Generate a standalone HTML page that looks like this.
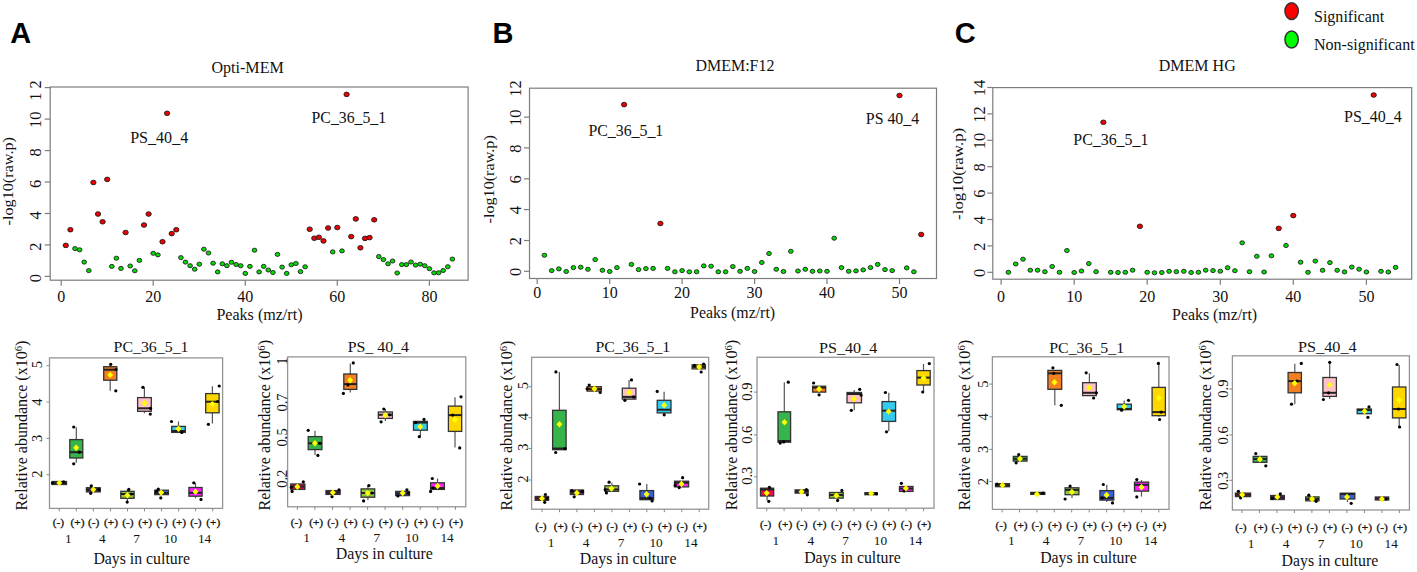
<!DOCTYPE html>
<html><head><meta charset="utf-8"><style>html,body{margin:0;padding:0;background:#fff;width:1417px;height:572px;overflow:hidden}svg{display:block}</style></head>
<body>
<svg width="1417" height="572" viewBox="0 0 1417 572">
<rect width="1417" height="572" fill="#fff"/>
<rect x="50.2" y="87" width="417.90000000000003" height="193.2" fill="none" stroke="#7c7c7c" stroke-width="1.2"/>
<line x1="44.7" y1="276.4" x2="50.2" y2="276.4" stroke="#7c7c7c" stroke-width="1.2"/>
<text transform="translate(40.8,278.2) rotate(-90)" font-family="Liberation Serif" font-size="16.5" font-weight="normal" text-anchor="middle" fill="#111">0</text>
<line x1="44.7" y1="244.9" x2="50.2" y2="244.9" stroke="#7c7c7c" stroke-width="1.2"/>
<text transform="translate(40.8,246.7) rotate(-90)" font-family="Liberation Serif" font-size="16.5" font-weight="normal" text-anchor="middle" fill="#111">2</text>
<line x1="44.7" y1="213.5" x2="50.2" y2="213.5" stroke="#7c7c7c" stroke-width="1.2"/>
<text transform="translate(40.8,215.3) rotate(-90)" font-family="Liberation Serif" font-size="16.5" font-weight="normal" text-anchor="middle" fill="#111">4</text>
<line x1="44.7" y1="182.0" x2="50.2" y2="182.0" stroke="#7c7c7c" stroke-width="1.2"/>
<text transform="translate(40.8,183.8) rotate(-90)" font-family="Liberation Serif" font-size="16.5" font-weight="normal" text-anchor="middle" fill="#111">6</text>
<line x1="44.7" y1="150.6" x2="50.2" y2="150.6" stroke="#7c7c7c" stroke-width="1.2"/>
<text transform="translate(40.8,152.4) rotate(-90)" font-family="Liberation Serif" font-size="16.5" font-weight="normal" text-anchor="middle" fill="#111">8</text>
<line x1="44.7" y1="119.1" x2="50.2" y2="119.1" stroke="#7c7c7c" stroke-width="1.2"/>
<text transform="translate(40.8,119.7) rotate(-90)" font-family="Liberation Serif" font-size="16.5" font-weight="normal" text-anchor="middle" fill="#111">10</text>
<line x1="44.7" y1="87.6" x2="50.2" y2="87.6" stroke="#7c7c7c" stroke-width="1.2"/>
<text transform="translate(40.8,88.4) rotate(-90)" font-family="Liberation Serif" font-size="16.5" font-weight="normal" text-anchor="middle" fill="#111" letter-spacing="4">12</text>
<line x1="61.2" y1="280.2" x2="61.2" y2="285.7" stroke="#7c7c7c" stroke-width="1.2"/>
<text x="61.2" y="301.8" font-family="Liberation Serif" font-size="16" font-weight="normal" text-anchor="middle" fill="#111">0</text>
<line x1="153.2" y1="280.2" x2="153.2" y2="285.7" stroke="#7c7c7c" stroke-width="1.2"/>
<text x="153.2" y="301.8" font-family="Liberation Serif" font-size="16" font-weight="normal" text-anchor="middle" fill="#111">20</text>
<line x1="245.3" y1="280.2" x2="245.3" y2="285.7" stroke="#7c7c7c" stroke-width="1.2"/>
<text x="245.3" y="301.8" font-family="Liberation Serif" font-size="16" font-weight="normal" text-anchor="middle" fill="#111">40</text>
<line x1="337.3" y1="280.2" x2="337.3" y2="285.7" stroke="#7c7c7c" stroke-width="1.2"/>
<text x="337.3" y="301.8" font-family="Liberation Serif" font-size="16" font-weight="normal" text-anchor="middle" fill="#111">60</text>
<line x1="429.4" y1="280.2" x2="429.4" y2="285.7" stroke="#7c7c7c" stroke-width="1.2"/>
<text x="429.4" y="301.8" font-family="Liberation Serif" font-size="16" font-weight="normal" text-anchor="middle" fill="#111">80</text>
<ellipse cx="65.8" cy="245.4" rx="2.65" ry="2.3" fill="#ee0000" stroke="#1e1e1e" stroke-width="0.9"/>
<ellipse cx="70.4" cy="229.7" rx="2.65" ry="2.3" fill="#ee0000" stroke="#1e1e1e" stroke-width="0.9"/>
<ellipse cx="75.0" cy="248.6" rx="2.35" ry="2.05" fill="#00dd00" stroke="#1e1e1e" stroke-width="0.9"/>
<ellipse cx="79.6" cy="249.8" rx="2.35" ry="2.05" fill="#00dd00" stroke="#1e1e1e" stroke-width="0.9"/>
<ellipse cx="84.2" cy="262.1" rx="2.35" ry="2.05" fill="#00dd00" stroke="#1e1e1e" stroke-width="0.9"/>
<ellipse cx="88.8" cy="270.6" rx="2.35" ry="2.05" fill="#00dd00" stroke="#1e1e1e" stroke-width="0.9"/>
<ellipse cx="93.4" cy="182.5" rx="2.65" ry="2.3" fill="#ee0000" stroke="#1e1e1e" stroke-width="0.9"/>
<ellipse cx="98.0" cy="214.0" rx="2.65" ry="2.3" fill="#ee0000" stroke="#1e1e1e" stroke-width="0.9"/>
<ellipse cx="102.6" cy="221.8" rx="2.65" ry="2.3" fill="#ee0000" stroke="#1e1e1e" stroke-width="0.9"/>
<ellipse cx="107.2" cy="179.4" rx="2.65" ry="2.3" fill="#ee0000" stroke="#1e1e1e" stroke-width="0.9"/>
<ellipse cx="111.8" cy="266.4" rx="2.35" ry="2.05" fill="#00dd00" stroke="#1e1e1e" stroke-width="0.9"/>
<ellipse cx="116.4" cy="258.2" rx="2.35" ry="2.05" fill="#00dd00" stroke="#1e1e1e" stroke-width="0.9"/>
<ellipse cx="121.0" cy="268.4" rx="2.35" ry="2.05" fill="#00dd00" stroke="#1e1e1e" stroke-width="0.9"/>
<ellipse cx="125.6" cy="232.5" rx="2.65" ry="2.3" fill="#ee0000" stroke="#1e1e1e" stroke-width="0.9"/>
<ellipse cx="130.2" cy="266.0" rx="2.35" ry="2.05" fill="#00dd00" stroke="#1e1e1e" stroke-width="0.9"/>
<ellipse cx="134.8" cy="270.8" rx="2.35" ry="2.05" fill="#00dd00" stroke="#1e1e1e" stroke-width="0.9"/>
<ellipse cx="139.4" cy="260.4" rx="2.35" ry="2.05" fill="#00dd00" stroke="#1e1e1e" stroke-width="0.9"/>
<ellipse cx="144.0" cy="225.0" rx="2.65" ry="2.3" fill="#ee0000" stroke="#1e1e1e" stroke-width="0.9"/>
<ellipse cx="148.6" cy="214.0" rx="2.65" ry="2.3" fill="#ee0000" stroke="#1e1e1e" stroke-width="0.9"/>
<ellipse cx="153.2" cy="253.3" rx="2.35" ry="2.05" fill="#00dd00" stroke="#1e1e1e" stroke-width="0.9"/>
<ellipse cx="157.9" cy="254.9" rx="2.35" ry="2.05" fill="#00dd00" stroke="#1e1e1e" stroke-width="0.9"/>
<ellipse cx="162.5" cy="241.7" rx="2.65" ry="2.3" fill="#ee0000" stroke="#1e1e1e" stroke-width="0.9"/>
<ellipse cx="167.1" cy="113.3" rx="2.65" ry="2.3" fill="#ee0000" stroke="#1e1e1e" stroke-width="0.9"/>
<ellipse cx="171.7" cy="233.6" rx="2.65" ry="2.3" fill="#ee0000" stroke="#1e1e1e" stroke-width="0.9"/>
<ellipse cx="176.3" cy="229.7" rx="2.65" ry="2.3" fill="#ee0000" stroke="#1e1e1e" stroke-width="0.9"/>
<ellipse cx="180.9" cy="257.6" rx="2.35" ry="2.05" fill="#00dd00" stroke="#1e1e1e" stroke-width="0.9"/>
<ellipse cx="185.5" cy="262.1" rx="2.35" ry="2.05" fill="#00dd00" stroke="#1e1e1e" stroke-width="0.9"/>
<ellipse cx="190.1" cy="265.7" rx="2.35" ry="2.05" fill="#00dd00" stroke="#1e1e1e" stroke-width="0.9"/>
<ellipse cx="194.7" cy="269.2" rx="2.35" ry="2.05" fill="#00dd00" stroke="#1e1e1e" stroke-width="0.9"/>
<ellipse cx="199.3" cy="264.2" rx="2.35" ry="2.05" fill="#00dd00" stroke="#1e1e1e" stroke-width="0.9"/>
<ellipse cx="203.9" cy="249.2" rx="2.35" ry="2.05" fill="#00dd00" stroke="#1e1e1e" stroke-width="0.9"/>
<ellipse cx="208.5" cy="253.0" rx="2.35" ry="2.05" fill="#00dd00" stroke="#1e1e1e" stroke-width="0.9"/>
<ellipse cx="213.1" cy="263.2" rx="2.35" ry="2.05" fill="#00dd00" stroke="#1e1e1e" stroke-width="0.9"/>
<ellipse cx="217.7" cy="271.9" rx="2.35" ry="2.05" fill="#00dd00" stroke="#1e1e1e" stroke-width="0.9"/>
<ellipse cx="222.3" cy="263.8" rx="2.35" ry="2.05" fill="#00dd00" stroke="#1e1e1e" stroke-width="0.9"/>
<ellipse cx="226.9" cy="265.7" rx="2.35" ry="2.05" fill="#00dd00" stroke="#1e1e1e" stroke-width="0.9"/>
<ellipse cx="231.5" cy="262.3" rx="2.35" ry="2.05" fill="#00dd00" stroke="#1e1e1e" stroke-width="0.9"/>
<ellipse cx="236.1" cy="264.5" rx="2.35" ry="2.05" fill="#00dd00" stroke="#1e1e1e" stroke-width="0.9"/>
<ellipse cx="240.7" cy="265.7" rx="2.35" ry="2.05" fill="#00dd00" stroke="#1e1e1e" stroke-width="0.9"/>
<ellipse cx="245.3" cy="273.4" rx="2.35" ry="2.05" fill="#00dd00" stroke="#1e1e1e" stroke-width="0.9"/>
<ellipse cx="249.9" cy="266.4" rx="2.35" ry="2.05" fill="#00dd00" stroke="#1e1e1e" stroke-width="0.9"/>
<ellipse cx="254.5" cy="250.2" rx="2.35" ry="2.05" fill="#00dd00" stroke="#1e1e1e" stroke-width="0.9"/>
<ellipse cx="259.1" cy="271.9" rx="2.35" ry="2.05" fill="#00dd00" stroke="#1e1e1e" stroke-width="0.9"/>
<ellipse cx="263.7" cy="266.4" rx="2.35" ry="2.05" fill="#00dd00" stroke="#1e1e1e" stroke-width="0.9"/>
<ellipse cx="268.3" cy="270.0" rx="2.35" ry="2.05" fill="#00dd00" stroke="#1e1e1e" stroke-width="0.9"/>
<ellipse cx="272.9" cy="272.5" rx="2.35" ry="2.05" fill="#00dd00" stroke="#1e1e1e" stroke-width="0.9"/>
<ellipse cx="277.5" cy="254.4" rx="2.35" ry="2.05" fill="#00dd00" stroke="#1e1e1e" stroke-width="0.9"/>
<ellipse cx="282.1" cy="267.1" rx="2.35" ry="2.05" fill="#00dd00" stroke="#1e1e1e" stroke-width="0.9"/>
<ellipse cx="286.7" cy="273.4" rx="2.35" ry="2.05" fill="#00dd00" stroke="#1e1e1e" stroke-width="0.9"/>
<ellipse cx="291.3" cy="264.8" rx="2.35" ry="2.05" fill="#00dd00" stroke="#1e1e1e" stroke-width="0.9"/>
<ellipse cx="295.9" cy="263.5" rx="2.35" ry="2.05" fill="#00dd00" stroke="#1e1e1e" stroke-width="0.9"/>
<ellipse cx="300.5" cy="271.6" rx="2.35" ry="2.05" fill="#00dd00" stroke="#1e1e1e" stroke-width="0.9"/>
<ellipse cx="305.1" cy="266.8" rx="2.35" ry="2.05" fill="#00dd00" stroke="#1e1e1e" stroke-width="0.9"/>
<ellipse cx="309.7" cy="229.2" rx="2.65" ry="2.3" fill="#ee0000" stroke="#1e1e1e" stroke-width="0.9"/>
<ellipse cx="314.3" cy="238.2" rx="2.65" ry="2.3" fill="#ee0000" stroke="#1e1e1e" stroke-width="0.9"/>
<ellipse cx="318.9" cy="237.3" rx="2.65" ry="2.3" fill="#ee0000" stroke="#1e1e1e" stroke-width="0.9"/>
<ellipse cx="323.5" cy="240.9" rx="2.65" ry="2.3" fill="#ee0000" stroke="#1e1e1e" stroke-width="0.9"/>
<ellipse cx="328.1" cy="228.0" rx="2.65" ry="2.3" fill="#ee0000" stroke="#1e1e1e" stroke-width="0.9"/>
<ellipse cx="332.7" cy="251.9" rx="2.35" ry="2.05" fill="#00dd00" stroke="#1e1e1e" stroke-width="0.9"/>
<ellipse cx="337.3" cy="227.5" rx="2.65" ry="2.3" fill="#ee0000" stroke="#1e1e1e" stroke-width="0.9"/>
<ellipse cx="342.0" cy="250.9" rx="2.35" ry="2.05" fill="#00dd00" stroke="#1e1e1e" stroke-width="0.9"/>
<ellipse cx="346.6" cy="94.4" rx="2.65" ry="2.3" fill="#ee0000" stroke="#1e1e1e" stroke-width="0.9"/>
<ellipse cx="351.2" cy="236.6" rx="2.65" ry="2.3" fill="#ee0000" stroke="#1e1e1e" stroke-width="0.9"/>
<ellipse cx="355.8" cy="218.9" rx="2.65" ry="2.3" fill="#ee0000" stroke="#1e1e1e" stroke-width="0.9"/>
<ellipse cx="360.4" cy="247.8" rx="2.65" ry="2.3" fill="#ee0000" stroke="#1e1e1e" stroke-width="0.9"/>
<ellipse cx="365.0" cy="238.4" rx="2.65" ry="2.3" fill="#ee0000" stroke="#1e1e1e" stroke-width="0.9"/>
<ellipse cx="369.6" cy="237.6" rx="2.65" ry="2.3" fill="#ee0000" stroke="#1e1e1e" stroke-width="0.9"/>
<ellipse cx="374.2" cy="219.8" rx="2.65" ry="2.3" fill="#ee0000" stroke="#1e1e1e" stroke-width="0.9"/>
<ellipse cx="378.8" cy="256.6" rx="2.35" ry="2.05" fill="#00dd00" stroke="#1e1e1e" stroke-width="0.9"/>
<ellipse cx="383.4" cy="259.6" rx="2.35" ry="2.05" fill="#00dd00" stroke="#1e1e1e" stroke-width="0.9"/>
<ellipse cx="388.0" cy="263.8" rx="2.35" ry="2.05" fill="#00dd00" stroke="#1e1e1e" stroke-width="0.9"/>
<ellipse cx="392.6" cy="261.0" rx="2.35" ry="2.05" fill="#00dd00" stroke="#1e1e1e" stroke-width="0.9"/>
<ellipse cx="397.2" cy="273.0" rx="2.35" ry="2.05" fill="#00dd00" stroke="#1e1e1e" stroke-width="0.9"/>
<ellipse cx="401.8" cy="264.6" rx="2.35" ry="2.05" fill="#00dd00" stroke="#1e1e1e" stroke-width="0.9"/>
<ellipse cx="406.4" cy="264.6" rx="2.35" ry="2.05" fill="#00dd00" stroke="#1e1e1e" stroke-width="0.9"/>
<ellipse cx="411.0" cy="262.0" rx="2.35" ry="2.05" fill="#00dd00" stroke="#1e1e1e" stroke-width="0.9"/>
<ellipse cx="415.6" cy="265.1" rx="2.35" ry="2.05" fill="#00dd00" stroke="#1e1e1e" stroke-width="0.9"/>
<ellipse cx="420.2" cy="264.2" rx="2.35" ry="2.05" fill="#00dd00" stroke="#1e1e1e" stroke-width="0.9"/>
<ellipse cx="424.8" cy="265.7" rx="2.35" ry="2.05" fill="#00dd00" stroke="#1e1e1e" stroke-width="0.9"/>
<ellipse cx="429.4" cy="268.7" rx="2.35" ry="2.05" fill="#00dd00" stroke="#1e1e1e" stroke-width="0.9"/>
<ellipse cx="434.0" cy="272.8" rx="2.35" ry="2.05" fill="#00dd00" stroke="#1e1e1e" stroke-width="0.9"/>
<ellipse cx="438.6" cy="272.8" rx="2.35" ry="2.05" fill="#00dd00" stroke="#1e1e1e" stroke-width="0.9"/>
<ellipse cx="443.2" cy="270.5" rx="2.35" ry="2.05" fill="#00dd00" stroke="#1e1e1e" stroke-width="0.9"/>
<ellipse cx="447.8" cy="266.7" rx="2.35" ry="2.05" fill="#00dd00" stroke="#1e1e1e" stroke-width="0.9"/>
<ellipse cx="452.4" cy="259.1" rx="2.35" ry="2.05" fill="#00dd00" stroke="#1e1e1e" stroke-width="0.9"/>
<text x="247.6" y="72.7" font-family="Liberation Serif" font-size="16" font-weight="normal" text-anchor="middle" fill="#111" textLength="72.2" lengthAdjust="spacingAndGlyphs">Opti-MEM</text>
<text x="259.45" y="320.4" font-family="Liberation Serif" font-size="16" font-weight="normal" text-anchor="middle" fill="#111" textLength="86.1" lengthAdjust="spacingAndGlyphs">Peaks (mz/rt)</text>
<text transform="translate(12.8,181.2) rotate(-90)" font-family="Liberation Serif" font-size="15.5" font-weight="normal" text-anchor="middle" fill="#111" textLength="88.4" lengthAdjust="spacingAndGlyphs">-log10(raw.p)</text>
<text x="159.2" y="143.2" font-family="Liberation Serif" font-size="16" font-weight="normal" text-anchor="middle" fill="#111" textLength="58.0" lengthAdjust="spacingAndGlyphs">PS_40_4</text>
<text x="348.85" y="123" font-family="Liberation Serif" font-size="16" font-weight="normal" text-anchor="middle" fill="#111" textLength="74.5" lengthAdjust="spacingAndGlyphs">PC_36_5_1</text>
<rect x="529.5" y="88.2" width="407.0" height="190.3" fill="none" stroke="#7c7c7c" stroke-width="1.2"/>
<line x1="524.0" y1="271.3" x2="529.5" y2="271.3" stroke="#7c7c7c" stroke-width="1.2"/>
<text transform="translate(520.8,271.9) rotate(-90)" font-family="Liberation Serif" font-size="16.5" font-weight="normal" text-anchor="middle" fill="#111">0</text>
<line x1="524.0" y1="240.5" x2="529.5" y2="240.5" stroke="#7c7c7c" stroke-width="1.2"/>
<text transform="translate(520.8,241.1) rotate(-90)" font-family="Liberation Serif" font-size="16.5" font-weight="normal" text-anchor="middle" fill="#111">2</text>
<line x1="524.0" y1="209.6" x2="529.5" y2="209.6" stroke="#7c7c7c" stroke-width="1.2"/>
<text transform="translate(520.8,210.2) rotate(-90)" font-family="Liberation Serif" font-size="16.5" font-weight="normal" text-anchor="middle" fill="#111">4</text>
<line x1="524.0" y1="178.8" x2="529.5" y2="178.8" stroke="#7c7c7c" stroke-width="1.2"/>
<text transform="translate(520.8,179.4) rotate(-90)" font-family="Liberation Serif" font-size="16.5" font-weight="normal" text-anchor="middle" fill="#111">6</text>
<line x1="524.0" y1="147.9" x2="529.5" y2="147.9" stroke="#7c7c7c" stroke-width="1.2"/>
<text transform="translate(520.8,148.5) rotate(-90)" font-family="Liberation Serif" font-size="16.5" font-weight="normal" text-anchor="middle" fill="#111">8</text>
<line x1="524.0" y1="117.1" x2="529.5" y2="117.1" stroke="#7c7c7c" stroke-width="1.2"/>
<text transform="translate(520.8,117.7) rotate(-90)" font-family="Liberation Serif" font-size="16.5" font-weight="normal" text-anchor="middle" fill="#111">10</text>
<text transform="translate(520.8,88.5) rotate(-90)" font-family="Liberation Serif" font-size="16.5" font-weight="normal" text-anchor="middle" fill="#111">12</text>
<line x1="537.2" y1="278.5" x2="537.2" y2="284.0" stroke="#7c7c7c" stroke-width="1.2"/>
<text x="537.2" y="298.1" font-family="Liberation Serif" font-size="16" font-weight="normal" text-anchor="middle" fill="#111">0</text>
<line x1="609.7" y1="278.5" x2="609.7" y2="284.0" stroke="#7c7c7c" stroke-width="1.2"/>
<text x="609.7" y="298.1" font-family="Liberation Serif" font-size="16" font-weight="normal" text-anchor="middle" fill="#111">10</text>
<line x1="682.1" y1="278.5" x2="682.1" y2="284.0" stroke="#7c7c7c" stroke-width="1.2"/>
<text x="682.1" y="298.1" font-family="Liberation Serif" font-size="16" font-weight="normal" text-anchor="middle" fill="#111">20</text>
<line x1="754.6" y1="278.5" x2="754.6" y2="284.0" stroke="#7c7c7c" stroke-width="1.2"/>
<text x="754.6" y="298.1" font-family="Liberation Serif" font-size="16" font-weight="normal" text-anchor="middle" fill="#111">30</text>
<line x1="827.0" y1="278.5" x2="827.0" y2="284.0" stroke="#7c7c7c" stroke-width="1.2"/>
<text x="827.0" y="298.1" font-family="Liberation Serif" font-size="16" font-weight="normal" text-anchor="middle" fill="#111">40</text>
<line x1="899.5" y1="278.5" x2="899.5" y2="284.0" stroke="#7c7c7c" stroke-width="1.2"/>
<text x="899.5" y="298.1" font-family="Liberation Serif" font-size="16" font-weight="normal" text-anchor="middle" fill="#111">50</text>
<ellipse cx="544.4" cy="255.3" rx="2.35" ry="2.05" fill="#00dd00" stroke="#1e1e1e" stroke-width="0.9"/>
<ellipse cx="551.7" cy="270.6" rx="2.35" ry="2.05" fill="#00dd00" stroke="#1e1e1e" stroke-width="0.9"/>
<ellipse cx="558.9" cy="268.9" rx="2.35" ry="2.05" fill="#00dd00" stroke="#1e1e1e" stroke-width="0.9"/>
<ellipse cx="566.2" cy="271.5" rx="2.35" ry="2.05" fill="#00dd00" stroke="#1e1e1e" stroke-width="0.9"/>
<ellipse cx="573.4" cy="267.6" rx="2.35" ry="2.05" fill="#00dd00" stroke="#1e1e1e" stroke-width="0.9"/>
<ellipse cx="580.7" cy="267.2" rx="2.35" ry="2.05" fill="#00dd00" stroke="#1e1e1e" stroke-width="0.9"/>
<ellipse cx="587.9" cy="269.3" rx="2.35" ry="2.05" fill="#00dd00" stroke="#1e1e1e" stroke-width="0.9"/>
<ellipse cx="595.2" cy="259.6" rx="2.35" ry="2.05" fill="#00dd00" stroke="#1e1e1e" stroke-width="0.9"/>
<ellipse cx="602.4" cy="270.3" rx="2.35" ry="2.05" fill="#00dd00" stroke="#1e1e1e" stroke-width="0.9"/>
<ellipse cx="609.7" cy="271.5" rx="2.35" ry="2.05" fill="#00dd00" stroke="#1e1e1e" stroke-width="0.9"/>
<ellipse cx="616.9" cy="267.6" rx="2.35" ry="2.05" fill="#00dd00" stroke="#1e1e1e" stroke-width="0.9"/>
<ellipse cx="624.1" cy="104.6" rx="2.65" ry="2.3" fill="#ee0000" stroke="#1e1e1e" stroke-width="0.9"/>
<ellipse cx="631.4" cy="264.4" rx="2.35" ry="2.05" fill="#00dd00" stroke="#1e1e1e" stroke-width="0.9"/>
<ellipse cx="638.6" cy="269.6" rx="2.35" ry="2.05" fill="#00dd00" stroke="#1e1e1e" stroke-width="0.9"/>
<ellipse cx="645.9" cy="268.6" rx="2.35" ry="2.05" fill="#00dd00" stroke="#1e1e1e" stroke-width="0.9"/>
<ellipse cx="653.1" cy="268.4" rx="2.35" ry="2.05" fill="#00dd00" stroke="#1e1e1e" stroke-width="0.9"/>
<ellipse cx="660.4" cy="223.5" rx="2.65" ry="2.3" fill="#ee0000" stroke="#1e1e1e" stroke-width="0.9"/>
<ellipse cx="667.6" cy="268.4" rx="2.35" ry="2.05" fill="#00dd00" stroke="#1e1e1e" stroke-width="0.9"/>
<ellipse cx="674.9" cy="271.8" rx="2.35" ry="2.05" fill="#00dd00" stroke="#1e1e1e" stroke-width="0.9"/>
<ellipse cx="682.1" cy="270.6" rx="2.35" ry="2.05" fill="#00dd00" stroke="#1e1e1e" stroke-width="0.9"/>
<ellipse cx="689.3" cy="271.8" rx="2.35" ry="2.05" fill="#00dd00" stroke="#1e1e1e" stroke-width="0.9"/>
<ellipse cx="696.6" cy="271.8" rx="2.35" ry="2.05" fill="#00dd00" stroke="#1e1e1e" stroke-width="0.9"/>
<ellipse cx="703.8" cy="265.9" rx="2.35" ry="2.05" fill="#00dd00" stroke="#1e1e1e" stroke-width="0.9"/>
<ellipse cx="711.1" cy="266.2" rx="2.35" ry="2.05" fill="#00dd00" stroke="#1e1e1e" stroke-width="0.9"/>
<ellipse cx="718.3" cy="271.8" rx="2.35" ry="2.05" fill="#00dd00" stroke="#1e1e1e" stroke-width="0.9"/>
<ellipse cx="725.6" cy="271.8" rx="2.35" ry="2.05" fill="#00dd00" stroke="#1e1e1e" stroke-width="0.9"/>
<ellipse cx="732.8" cy="266.6" rx="2.35" ry="2.05" fill="#00dd00" stroke="#1e1e1e" stroke-width="0.9"/>
<ellipse cx="740.1" cy="271.3" rx="2.35" ry="2.05" fill="#00dd00" stroke="#1e1e1e" stroke-width="0.9"/>
<ellipse cx="747.3" cy="268.4" rx="2.35" ry="2.05" fill="#00dd00" stroke="#1e1e1e" stroke-width="0.9"/>
<ellipse cx="754.6" cy="271.5" rx="2.35" ry="2.05" fill="#00dd00" stroke="#1e1e1e" stroke-width="0.9"/>
<ellipse cx="761.8" cy="262.5" rx="2.35" ry="2.05" fill="#00dd00" stroke="#1e1e1e" stroke-width="0.9"/>
<ellipse cx="769.0" cy="253.5" rx="2.35" ry="2.05" fill="#00dd00" stroke="#1e1e1e" stroke-width="0.9"/>
<ellipse cx="776.3" cy="269.3" rx="2.35" ry="2.05" fill="#00dd00" stroke="#1e1e1e" stroke-width="0.9"/>
<ellipse cx="783.5" cy="271.5" rx="2.35" ry="2.05" fill="#00dd00" stroke="#1e1e1e" stroke-width="0.9"/>
<ellipse cx="790.8" cy="251.3" rx="2.35" ry="2.05" fill="#00dd00" stroke="#1e1e1e" stroke-width="0.9"/>
<ellipse cx="798.0" cy="271.0" rx="2.35" ry="2.05" fill="#00dd00" stroke="#1e1e1e" stroke-width="0.9"/>
<ellipse cx="805.3" cy="269.3" rx="2.35" ry="2.05" fill="#00dd00" stroke="#1e1e1e" stroke-width="0.9"/>
<ellipse cx="812.5" cy="271.3" rx="2.35" ry="2.05" fill="#00dd00" stroke="#1e1e1e" stroke-width="0.9"/>
<ellipse cx="819.8" cy="271.0" rx="2.35" ry="2.05" fill="#00dd00" stroke="#1e1e1e" stroke-width="0.9"/>
<ellipse cx="827.0" cy="271.3" rx="2.35" ry="2.05" fill="#00dd00" stroke="#1e1e1e" stroke-width="0.9"/>
<ellipse cx="834.2" cy="238.2" rx="2.35" ry="2.05" fill="#00dd00" stroke="#1e1e1e" stroke-width="0.9"/>
<ellipse cx="841.5" cy="267.6" rx="2.35" ry="2.05" fill="#00dd00" stroke="#1e1e1e" stroke-width="0.9"/>
<ellipse cx="848.7" cy="271.3" rx="2.35" ry="2.05" fill="#00dd00" stroke="#1e1e1e" stroke-width="0.9"/>
<ellipse cx="856.0" cy="270.9" rx="2.35" ry="2.05" fill="#00dd00" stroke="#1e1e1e" stroke-width="0.9"/>
<ellipse cx="863.2" cy="269.9" rx="2.35" ry="2.05" fill="#00dd00" stroke="#1e1e1e" stroke-width="0.9"/>
<ellipse cx="870.5" cy="267.6" rx="2.35" ry="2.05" fill="#00dd00" stroke="#1e1e1e" stroke-width="0.9"/>
<ellipse cx="877.7" cy="264.4" rx="2.35" ry="2.05" fill="#00dd00" stroke="#1e1e1e" stroke-width="0.9"/>
<ellipse cx="885.0" cy="269.6" rx="2.35" ry="2.05" fill="#00dd00" stroke="#1e1e1e" stroke-width="0.9"/>
<ellipse cx="892.2" cy="270.6" rx="2.35" ry="2.05" fill="#00dd00" stroke="#1e1e1e" stroke-width="0.9"/>
<ellipse cx="899.5" cy="95.5" rx="2.65" ry="2.3" fill="#ee0000" stroke="#1e1e1e" stroke-width="0.9"/>
<ellipse cx="906.7" cy="267.9" rx="2.35" ry="2.05" fill="#00dd00" stroke="#1e1e1e" stroke-width="0.9"/>
<ellipse cx="913.9" cy="271.8" rx="2.35" ry="2.05" fill="#00dd00" stroke="#1e1e1e" stroke-width="0.9"/>
<ellipse cx="921.2" cy="234.5" rx="2.65" ry="2.3" fill="#ee0000" stroke="#1e1e1e" stroke-width="0.9"/>
<text x="735.0" y="70.8" font-family="Liberation Serif" font-size="16" font-weight="normal" text-anchor="middle" fill="#111" textLength="78.8" lengthAdjust="spacingAndGlyphs">DMEM:F12</text>
<text x="732.6" y="317.7" font-family="Liberation Serif" font-size="16" font-weight="normal" text-anchor="middle" fill="#111" textLength="85.0" lengthAdjust="spacingAndGlyphs">Peaks (mz/rt)</text>
<text transform="translate(494,179.35) rotate(-90)" font-family="Liberation Serif" font-size="15.5" font-weight="normal" text-anchor="middle" fill="#111" textLength="88.3" lengthAdjust="spacingAndGlyphs">-log10(raw.p)</text>
<text x="625.8499999999999" y="136.4" font-family="Liberation Serif" font-size="16" font-weight="normal" text-anchor="middle" fill="#111" textLength="74.9" lengthAdjust="spacingAndGlyphs">PC_36_5_1</text>
<text x="892.5" y="124.2" font-family="Liberation Serif" font-size="16" font-weight="normal" text-anchor="middle" fill="#111" textLength="53.4" lengthAdjust="spacingAndGlyphs">PS 40_4</text>
<rect x="992.8" y="87.6" width="418.9000000000001" height="191.6" fill="none" stroke="#7c7c7c" stroke-width="1.2"/>
<line x1="987.3" y1="272.3" x2="992.8" y2="272.3" stroke="#7c7c7c" stroke-width="1.2"/>
<text transform="translate(984.8,272.9) rotate(-90)" font-family="Liberation Serif" font-size="16.5" font-weight="normal" text-anchor="middle" fill="#111">0</text>
<line x1="987.3" y1="245.9" x2="992.8" y2="245.9" stroke="#7c7c7c" stroke-width="1.2"/>
<text transform="translate(984.8,246.5) rotate(-90)" font-family="Liberation Serif" font-size="16.5" font-weight="normal" text-anchor="middle" fill="#111">2</text>
<line x1="987.3" y1="219.5" x2="992.8" y2="219.5" stroke="#7c7c7c" stroke-width="1.2"/>
<text transform="translate(984.8,220.1) rotate(-90)" font-family="Liberation Serif" font-size="16.5" font-weight="normal" text-anchor="middle" fill="#111">4</text>
<line x1="987.3" y1="193.1" x2="992.8" y2="193.1" stroke="#7c7c7c" stroke-width="1.2"/>
<text transform="translate(984.8,193.7) rotate(-90)" font-family="Liberation Serif" font-size="16.5" font-weight="normal" text-anchor="middle" fill="#111">6</text>
<line x1="987.3" y1="166.7" x2="992.8" y2="166.7" stroke="#7c7c7c" stroke-width="1.2"/>
<text transform="translate(984.8,167.3) rotate(-90)" font-family="Liberation Serif" font-size="16.5" font-weight="normal" text-anchor="middle" fill="#111">8</text>
<line x1="987.3" y1="140.3" x2="992.8" y2="140.3" stroke="#7c7c7c" stroke-width="1.2"/>
<text transform="translate(984.8,140.9) rotate(-90)" font-family="Liberation Serif" font-size="16.5" font-weight="normal" text-anchor="middle" fill="#111">10</text>
<line x1="987.3" y1="113.9" x2="992.8" y2="113.9" stroke="#7c7c7c" stroke-width="1.2"/>
<text transform="translate(984.8,114.5) rotate(-90)" font-family="Liberation Serif" font-size="16.5" font-weight="normal" text-anchor="middle" fill="#111">12</text>
<line x1="987.3" y1="87.5" x2="992.8" y2="87.5" stroke="#7c7c7c" stroke-width="1.2"/>
<text transform="translate(984.8,88.1) rotate(-90)" font-family="Liberation Serif" font-size="16.5" font-weight="normal" text-anchor="middle" fill="#111">14</text>
<line x1="1001.1" y1="279.2" x2="1001.1" y2="284.7" stroke="#7c7c7c" stroke-width="1.2"/>
<text x="1001.1" y="301.5" font-family="Liberation Serif" font-size="16" font-weight="normal" text-anchor="middle" fill="#111">0</text>
<line x1="1074.2" y1="279.2" x2="1074.2" y2="284.7" stroke="#7c7c7c" stroke-width="1.2"/>
<text x="1074.2" y="301.5" font-family="Liberation Serif" font-size="16" font-weight="normal" text-anchor="middle" fill="#111">10</text>
<line x1="1147.2" y1="279.2" x2="1147.2" y2="284.7" stroke="#7c7c7c" stroke-width="1.2"/>
<text x="1147.2" y="301.5" font-family="Liberation Serif" font-size="16" font-weight="normal" text-anchor="middle" fill="#111">20</text>
<line x1="1220.3" y1="279.2" x2="1220.3" y2="284.7" stroke="#7c7c7c" stroke-width="1.2"/>
<text x="1220.3" y="301.5" font-family="Liberation Serif" font-size="16" font-weight="normal" text-anchor="middle" fill="#111">30</text>
<line x1="1293.3" y1="279.2" x2="1293.3" y2="284.7" stroke="#7c7c7c" stroke-width="1.2"/>
<text x="1293.3" y="301.5" font-family="Liberation Serif" font-size="16" font-weight="normal" text-anchor="middle" fill="#111">40</text>
<line x1="1366.4" y1="279.2" x2="1366.4" y2="284.7" stroke="#7c7c7c" stroke-width="1.2"/>
<text x="1366.4" y="301.5" font-family="Liberation Serif" font-size="16" font-weight="normal" text-anchor="middle" fill="#111">50</text>
<ellipse cx="1008.4" cy="272.3" rx="2.35" ry="2.05" fill="#00dd00" stroke="#1e1e1e" stroke-width="0.9"/>
<ellipse cx="1015.7" cy="264.0" rx="2.35" ry="2.05" fill="#00dd00" stroke="#1e1e1e" stroke-width="0.9"/>
<ellipse cx="1023.0" cy="259.2" rx="2.35" ry="2.05" fill="#00dd00" stroke="#1e1e1e" stroke-width="0.9"/>
<ellipse cx="1030.3" cy="270.2" rx="2.35" ry="2.05" fill="#00dd00" stroke="#1e1e1e" stroke-width="0.9"/>
<ellipse cx="1037.6" cy="270.2" rx="2.35" ry="2.05" fill="#00dd00" stroke="#1e1e1e" stroke-width="0.9"/>
<ellipse cx="1044.9" cy="271.7" rx="2.35" ry="2.05" fill="#00dd00" stroke="#1e1e1e" stroke-width="0.9"/>
<ellipse cx="1052.2" cy="266.5" rx="2.35" ry="2.05" fill="#00dd00" stroke="#1e1e1e" stroke-width="0.9"/>
<ellipse cx="1059.5" cy="272.3" rx="2.35" ry="2.05" fill="#00dd00" stroke="#1e1e1e" stroke-width="0.9"/>
<ellipse cx="1066.9" cy="250.5" rx="2.35" ry="2.05" fill="#00dd00" stroke="#1e1e1e" stroke-width="0.9"/>
<ellipse cx="1074.2" cy="272.5" rx="2.35" ry="2.05" fill="#00dd00" stroke="#1e1e1e" stroke-width="0.9"/>
<ellipse cx="1081.5" cy="271.0" rx="2.35" ry="2.05" fill="#00dd00" stroke="#1e1e1e" stroke-width="0.9"/>
<ellipse cx="1088.8" cy="263.6" rx="2.35" ry="2.05" fill="#00dd00" stroke="#1e1e1e" stroke-width="0.9"/>
<ellipse cx="1096.1" cy="271.7" rx="2.35" ry="2.05" fill="#00dd00" stroke="#1e1e1e" stroke-width="0.9"/>
<ellipse cx="1103.4" cy="122.3" rx="2.65" ry="2.3" fill="#ee0000" stroke="#1e1e1e" stroke-width="0.9"/>
<ellipse cx="1110.7" cy="272.3" rx="2.35" ry="2.05" fill="#00dd00" stroke="#1e1e1e" stroke-width="0.9"/>
<ellipse cx="1118.0" cy="272.5" rx="2.35" ry="2.05" fill="#00dd00" stroke="#1e1e1e" stroke-width="0.9"/>
<ellipse cx="1125.3" cy="272.3" rx="2.35" ry="2.05" fill="#00dd00" stroke="#1e1e1e" stroke-width="0.9"/>
<ellipse cx="1132.6" cy="270.2" rx="2.35" ry="2.05" fill="#00dd00" stroke="#1e1e1e" stroke-width="0.9"/>
<ellipse cx="1139.9" cy="226.3" rx="2.65" ry="2.3" fill="#ee0000" stroke="#1e1e1e" stroke-width="0.9"/>
<ellipse cx="1147.2" cy="272.3" rx="2.35" ry="2.05" fill="#00dd00" stroke="#1e1e1e" stroke-width="0.9"/>
<ellipse cx="1154.5" cy="272.8" rx="2.35" ry="2.05" fill="#00dd00" stroke="#1e1e1e" stroke-width="0.9"/>
<ellipse cx="1161.8" cy="272.5" rx="2.35" ry="2.05" fill="#00dd00" stroke="#1e1e1e" stroke-width="0.9"/>
<ellipse cx="1169.1" cy="271.3" rx="2.35" ry="2.05" fill="#00dd00" stroke="#1e1e1e" stroke-width="0.9"/>
<ellipse cx="1176.4" cy="271.7" rx="2.35" ry="2.05" fill="#00dd00" stroke="#1e1e1e" stroke-width="0.9"/>
<ellipse cx="1183.8" cy="271.3" rx="2.35" ry="2.05" fill="#00dd00" stroke="#1e1e1e" stroke-width="0.9"/>
<ellipse cx="1191.1" cy="272.5" rx="2.35" ry="2.05" fill="#00dd00" stroke="#1e1e1e" stroke-width="0.9"/>
<ellipse cx="1198.4" cy="272.3" rx="2.35" ry="2.05" fill="#00dd00" stroke="#1e1e1e" stroke-width="0.9"/>
<ellipse cx="1205.7" cy="270.2" rx="2.35" ry="2.05" fill="#00dd00" stroke="#1e1e1e" stroke-width="0.9"/>
<ellipse cx="1213.0" cy="270.6" rx="2.35" ry="2.05" fill="#00dd00" stroke="#1e1e1e" stroke-width="0.9"/>
<ellipse cx="1220.3" cy="271.2" rx="2.35" ry="2.05" fill="#00dd00" stroke="#1e1e1e" stroke-width="0.9"/>
<ellipse cx="1227.6" cy="267.7" rx="2.35" ry="2.05" fill="#00dd00" stroke="#1e1e1e" stroke-width="0.9"/>
<ellipse cx="1234.9" cy="270.7" rx="2.35" ry="2.05" fill="#00dd00" stroke="#1e1e1e" stroke-width="0.9"/>
<ellipse cx="1242.2" cy="242.8" rx="2.35" ry="2.05" fill="#00dd00" stroke="#1e1e1e" stroke-width="0.9"/>
<ellipse cx="1249.5" cy="271.7" rx="2.35" ry="2.05" fill="#00dd00" stroke="#1e1e1e" stroke-width="0.9"/>
<ellipse cx="1256.8" cy="256.3" rx="2.35" ry="2.05" fill="#00dd00" stroke="#1e1e1e" stroke-width="0.9"/>
<ellipse cx="1264.1" cy="272.0" rx="2.35" ry="2.05" fill="#00dd00" stroke="#1e1e1e" stroke-width="0.9"/>
<ellipse cx="1271.4" cy="255.8" rx="2.35" ry="2.05" fill="#00dd00" stroke="#1e1e1e" stroke-width="0.9"/>
<ellipse cx="1278.7" cy="228.4" rx="2.65" ry="2.3" fill="#ee0000" stroke="#1e1e1e" stroke-width="0.9"/>
<ellipse cx="1286.0" cy="245.5" rx="2.35" ry="2.05" fill="#00dd00" stroke="#1e1e1e" stroke-width="0.9"/>
<ellipse cx="1293.3" cy="215.6" rx="2.65" ry="2.3" fill="#ee0000" stroke="#1e1e1e" stroke-width="0.9"/>
<ellipse cx="1300.6" cy="262.2" rx="2.35" ry="2.05" fill="#00dd00" stroke="#1e1e1e" stroke-width="0.9"/>
<ellipse cx="1308.0" cy="272.3" rx="2.35" ry="2.05" fill="#00dd00" stroke="#1e1e1e" stroke-width="0.9"/>
<ellipse cx="1315.3" cy="261.1" rx="2.35" ry="2.05" fill="#00dd00" stroke="#1e1e1e" stroke-width="0.9"/>
<ellipse cx="1322.6" cy="270.3" rx="2.35" ry="2.05" fill="#00dd00" stroke="#1e1e1e" stroke-width="0.9"/>
<ellipse cx="1329.9" cy="262.6" rx="2.35" ry="2.05" fill="#00dd00" stroke="#1e1e1e" stroke-width="0.9"/>
<ellipse cx="1337.2" cy="270.3" rx="2.35" ry="2.05" fill="#00dd00" stroke="#1e1e1e" stroke-width="0.9"/>
<ellipse cx="1344.5" cy="271.9" rx="2.35" ry="2.05" fill="#00dd00" stroke="#1e1e1e" stroke-width="0.9"/>
<ellipse cx="1351.8" cy="267.1" rx="2.35" ry="2.05" fill="#00dd00" stroke="#1e1e1e" stroke-width="0.9"/>
<ellipse cx="1359.1" cy="269.2" rx="2.35" ry="2.05" fill="#00dd00" stroke="#1e1e1e" stroke-width="0.9"/>
<ellipse cx="1366.4" cy="272.0" rx="2.35" ry="2.05" fill="#00dd00" stroke="#1e1e1e" stroke-width="0.9"/>
<ellipse cx="1373.7" cy="95.0" rx="2.65" ry="2.3" fill="#ee0000" stroke="#1e1e1e" stroke-width="0.9"/>
<ellipse cx="1381.0" cy="271.3" rx="2.35" ry="2.05" fill="#00dd00" stroke="#1e1e1e" stroke-width="0.9"/>
<ellipse cx="1388.3" cy="272.0" rx="2.35" ry="2.05" fill="#00dd00" stroke="#1e1e1e" stroke-width="0.9"/>
<ellipse cx="1395.6" cy="267.4" rx="2.35" ry="2.05" fill="#00dd00" stroke="#1e1e1e" stroke-width="0.9"/>
<text x="1197.25" y="71.2" font-family="Liberation Serif" font-size="16" font-weight="normal" text-anchor="middle" fill="#111" textLength="76.9" lengthAdjust="spacingAndGlyphs">DMEM HG</text>
<text x="1214.6" y="320.3" font-family="Liberation Serif" font-size="16" font-weight="normal" text-anchor="middle" fill="#111" textLength="85.0" lengthAdjust="spacingAndGlyphs">Peaks (mz/rt)</text>
<text transform="translate(963,173.85) rotate(-90)" font-family="Liberation Serif" font-size="15.5" font-weight="normal" text-anchor="middle" fill="#111" textLength="92.1" lengthAdjust="spacingAndGlyphs">-log10(raw.p)</text>
<text x="1110.85" y="145.3" font-family="Liberation Serif" font-size="16" font-weight="normal" text-anchor="middle" fill="#111" textLength="75.1" lengthAdjust="spacingAndGlyphs">PC_36_5_1</text>
<text x="1372.85" y="122" font-family="Liberation Serif" font-size="16" font-weight="normal" text-anchor="middle" fill="#111" textLength="57.7" lengthAdjust="spacingAndGlyphs">PS_40_4</text>
<text x="20.8" y="43.1" font-family="Liberation Sans" font-size="29" font-weight="bold" text-anchor="middle" fill="#000">A</text>
<text x="503.1" y="42.8" font-family="Liberation Sans" font-size="29" font-weight="bold" text-anchor="middle" fill="#000">B</text>
<text x="965.3" y="43.2" font-family="Liberation Sans" font-size="29" font-weight="bold" text-anchor="middle" fill="#000">C</text>
<ellipse cx="1291.6" cy="11.1" rx="6.7" ry="8.4" fill="#ff0000" stroke="#333" stroke-width="1.5"/>
<ellipse cx="1291.6" cy="39.5" rx="6.7" ry="8.4" fill="#00ff00" stroke="#333" stroke-width="1.5"/>
<text x="1314" y="21.6" font-family="Liberation Serif" font-size="16.5" font-weight="normal" text-anchor="start" fill="#111" textLength="70.3" lengthAdjust="spacingAndGlyphs">Significant</text>
<text x="1314" y="49.9" font-family="Liberation Serif" font-size="16.5" font-weight="normal" text-anchor="start" fill="#111" textLength="100.6" lengthAdjust="spacingAndGlyphs">Non-significant</text>
<rect x="49.5" y="357.9" width="173.1" height="150.5" fill="none" stroke="#959595" stroke-width="1.3"/>
<line x1="46.5" y1="474.8" x2="49.5" y2="474.8" stroke="#888" stroke-width="1"/>
<text transform="translate(41.6,474.2) rotate(-90)" font-family="Liberation Serif" font-size="14.5" font-weight="normal" text-anchor="middle" fill="#111">2</text>
<line x1="46.5" y1="438.3" x2="49.5" y2="438.3" stroke="#888" stroke-width="1"/>
<text transform="translate(41.6,438.3) rotate(-90)" font-family="Liberation Serif" font-size="14.5" font-weight="normal" text-anchor="middle" fill="#111">3</text>
<line x1="46.5" y1="402" x2="49.5" y2="402" stroke="#888" stroke-width="1"/>
<text transform="translate(41.6,402) rotate(-90)" font-family="Liberation Serif" font-size="14.5" font-weight="normal" text-anchor="middle" fill="#111">4</text>
<line x1="46.5" y1="365.7" x2="49.5" y2="365.7" stroke="#888" stroke-width="1"/>
<text transform="translate(41.6,364.5) rotate(-90)" font-family="Liberation Serif" font-size="14.5" font-weight="normal" text-anchor="middle" fill="#111">5</text>
<line x1="59.3" y1="508.4" x2="59.3" y2="511.4" stroke="#888" stroke-width="1"/>
<text x="58.3" y="526.3" font-family="Liberation Serif" font-size="11.3" font-weight="normal" text-anchor="middle" fill="#111" stroke="#111" stroke-width="0.3">(-)</text>
<line x1="76.3" y1="508.4" x2="76.3" y2="511.4" stroke="#888" stroke-width="1"/>
<text x="77.5" y="526.3" font-family="Liberation Serif" font-size="11.3" font-weight="normal" text-anchor="middle" fill="#111" stroke="#111" stroke-width="0.3">(+)</text>
<line x1="93.4" y1="508.4" x2="93.4" y2="511.4" stroke="#888" stroke-width="1"/>
<text x="93.7" y="526.3" font-family="Liberation Serif" font-size="11.3" font-weight="normal" text-anchor="middle" fill="#111" stroke="#111" stroke-width="0.3">(-)</text>
<line x1="110.4" y1="508.4" x2="110.4" y2="511.4" stroke="#888" stroke-width="1"/>
<text x="111.0" y="526.3" font-family="Liberation Serif" font-size="11.3" font-weight="normal" text-anchor="middle" fill="#111" stroke="#111" stroke-width="0.3">(+)</text>
<line x1="127.5" y1="508.4" x2="127.5" y2="511.4" stroke="#888" stroke-width="1"/>
<text x="127.8" y="526.3" font-family="Liberation Serif" font-size="11.3" font-weight="normal" text-anchor="middle" fill="#111" stroke="#111" stroke-width="0.3">(-)</text>
<line x1="144.5" y1="508.4" x2="144.5" y2="511.4" stroke="#888" stroke-width="1"/>
<text x="145.1" y="526.3" font-family="Liberation Serif" font-size="11.3" font-weight="normal" text-anchor="middle" fill="#111" stroke="#111" stroke-width="0.3">(+)</text>
<line x1="161.5" y1="508.4" x2="161.5" y2="511.4" stroke="#888" stroke-width="1"/>
<text x="161.8" y="526.3" font-family="Liberation Serif" font-size="11.3" font-weight="normal" text-anchor="middle" fill="#111" stroke="#111" stroke-width="0.3">(-)</text>
<line x1="178.6" y1="508.4" x2="178.6" y2="511.4" stroke="#888" stroke-width="1"/>
<text x="179.2" y="526.3" font-family="Liberation Serif" font-size="11.3" font-weight="normal" text-anchor="middle" fill="#111" stroke="#111" stroke-width="0.3">(+)</text>
<line x1="195.6" y1="508.4" x2="195.6" y2="511.4" stroke="#888" stroke-width="1"/>
<text x="195.9" y="526.3" font-family="Liberation Serif" font-size="11.3" font-weight="normal" text-anchor="middle" fill="#111" stroke="#111" stroke-width="0.3">(-)</text>
<line x1="212.7" y1="508.4" x2="212.7" y2="511.4" stroke="#888" stroke-width="1"/>
<text x="213.3" y="526.3" font-family="Liberation Serif" font-size="11.3" font-weight="normal" text-anchor="middle" fill="#111" stroke="#111" stroke-width="0.3">(+)</text>
<text x="68.3" y="542.7" font-family="Liberation Serif" font-size="13.3" font-weight="normal" text-anchor="middle" fill="#111">1</text>
<text x="102.4" y="542.7" font-family="Liberation Serif" font-size="13.3" font-weight="normal" text-anchor="middle" fill="#111">4</text>
<text x="136.5" y="542.7" font-family="Liberation Serif" font-size="13.3" font-weight="normal" text-anchor="middle" fill="#111">7</text>
<text x="170.6" y="542.7" font-family="Liberation Serif" font-size="13.3" font-weight="normal" text-anchor="middle" fill="#111">10</text>
<text x="204.6" y="542.7" font-family="Liberation Serif" font-size="13.3" font-weight="normal" text-anchor="middle" fill="#111">14</text>
<rect x="52.1" y="481.5" width="14.4" height="3.0" fill="#e8104a" stroke="#333" stroke-width="1.3"/>
<line x1="52.1" y1="483" x2="66.5" y2="483" stroke="#222" stroke-width="2"/>
<circle cx="63.7" cy="481.8" r="1.6" fill="#000"/>
<circle cx="52.5" cy="483" r="1.6" fill="#000"/>
<path d="M59.3 479.7L62.3 482.9L59.3 486.09999999999997L56.3 482.9Z" fill="#ffff00"/>
<line x1="76.3" y1="427.3" x2="76.3" y2="439.6" stroke="#555" stroke-width="1.2"/>
<line x1="76.3" y1="458" x2="76.3" y2="462.7" stroke="#555" stroke-width="1.2"/>
<rect x="69.8" y="439.6" width="13.0" height="18.4" fill="#36b34a" stroke="#333" stroke-width="1.3"/>
<line x1="69.8" y1="452.2" x2="82.8" y2="452.2" stroke="#222" stroke-width="2"/>
<circle cx="73.7" cy="427" r="1.6" fill="#000"/>
<circle cx="79.3" cy="452.2" r="1.6" fill="#000"/>
<circle cx="73.7" cy="463.8" r="1.6" fill="#000"/>
<path d="M76.2 444.5L79.2 447.7L76.2 450.9L73.2 447.7Z" fill="#ffff00"/>
<rect x="86.4" y="487.7" width="13.8" height="4.2" fill="#6b1e8a" stroke="#333" stroke-width="1.3"/>
<line x1="86.4" y1="489.7" x2="100.2" y2="489.7" stroke="#222" stroke-width="2"/>
<circle cx="91.3" cy="485.8" r="1.6" fill="#000"/>
<circle cx="90.7" cy="493.3" r="1.6" fill="#000"/>
<circle cx="99" cy="489.7" r="1.6" fill="#000"/>
<path d="M93.3 486.40000000000003L96.3 489.6L93.3 492.8L90.3 489.6Z" fill="#ffff00"/>
<line x1="110.2" y1="364.3" x2="110.2" y2="366.7" stroke="#555" stroke-width="1.2"/>
<line x1="110.2" y1="380.2" x2="110.2" y2="390.7" stroke="#555" stroke-width="1.2"/>
<rect x="103.7" y="366.7" width="13.1" height="13.5" fill="#f47f21" stroke="#333" stroke-width="1.3"/>
<line x1="103.7" y1="369.7" x2="116.8" y2="369.7" stroke="#222" stroke-width="2"/>
<circle cx="110.7" cy="364.3" r="1.6" fill="#000"/>
<circle cx="116" cy="369.5" r="1.6" fill="#000"/>
<circle cx="115.8" cy="390.8" r="1.6" fill="#000"/>
<path d="M110.2 371.7L113.2 374.9L110.2 378.09999999999997L107.2 374.9Z" fill="#ffff00"/>
<line x1="127.4" y1="489.4" x2="127.4" y2="491.3" stroke="#555" stroke-width="1.2"/>
<line x1="127.4" y1="498.3" x2="127.4" y2="502" stroke="#555" stroke-width="1.2"/>
<rect x="120.8" y="491.3" width="13.3" height="7.0" fill="#8dc63f" stroke="#333" stroke-width="1.3"/>
<line x1="120.8" y1="494" x2="134.1" y2="494" stroke="#222" stroke-width="2"/>
<circle cx="128.8" cy="489.4" r="1.6" fill="#000"/>
<circle cx="131.2" cy="494" r="1.6" fill="#000"/>
<circle cx="127.2" cy="502.1" r="1.6" fill="#000"/>
<path d="M127.4 492.1L130.4 495.3L127.4 498.5L124.4 495.3Z" fill="#ffff00"/>
<line x1="144.4" y1="387.3" x2="144.4" y2="397.6" stroke="#555" stroke-width="1.2"/>
<line x1="144.4" y1="411.3" x2="144.4" y2="413.2" stroke="#555" stroke-width="1.2"/>
<rect x="137.6" y="397.6" width="13.7" height="13.7" fill="#ffc0c8" stroke="#333" stroke-width="1.3"/>
<line x1="137.6" y1="408.3" x2="151.3" y2="408.3" stroke="#222" stroke-width="2"/>
<circle cx="142.9" cy="387.3" r="1.6" fill="#000"/>
<circle cx="150.5" cy="408.3" r="1.6" fill="#000"/>
<circle cx="150.3" cy="414.1" r="1.6" fill="#000"/>
<path d="M144.5 400.1L147.5 403.3L144.5 406.5L141.5 403.3Z" fill="#ffff00"/>
<rect x="154.7" y="490.2" width="13.7" height="4.4" fill="#3a5fd8" stroke="#333" stroke-width="1.3"/>
<line x1="154.7" y1="493" x2="168.4" y2="493" stroke="#222" stroke-width="2"/>
<circle cx="158.3" cy="489" r="1.6" fill="#000"/>
<circle cx="156.6" cy="491.1" r="1.6" fill="#000"/>
<circle cx="160.8" cy="497.9" r="1.6" fill="#000"/>
<path d="M161.2 489.40000000000003L164.2 492.6L161.2 495.8L158.2 492.6Z" fill="#ffff00"/>
<line x1="178.5" y1="421.5" x2="178.5" y2="426.4" stroke="#555" stroke-width="1.2"/>
<rect x="171.7" y="426.4" width="13.6" height="6.0" fill="#33ccf0" stroke="#333" stroke-width="1.3"/>
<line x1="171.7" y1="431" x2="185.3" y2="431" stroke="#222" stroke-width="2"/>
<circle cx="171.5" cy="421.5" r="1.6" fill="#000"/>
<circle cx="181.8" cy="432.5" r="1.6" fill="#000"/>
<path d="M178.5 425.5L181.5 428.7L178.5 431.9L175.5 428.7Z" fill="#ffff00"/>
<line x1="195.5" y1="483" x2="195.5" y2="487.5" stroke="#555" stroke-width="1.2"/>
<line x1="195.5" y1="496.2" x2="195.5" y2="498.3" stroke="#555" stroke-width="1.2"/>
<rect x="188.9" y="487.5" width="13.2" height="8.7" fill="#ff20ff" stroke="#333" stroke-width="1.3"/>
<line x1="188.9" y1="492.8" x2="202.1" y2="492.8" stroke="#222" stroke-width="2"/>
<circle cx="193.8" cy="482.8" r="1.6" fill="#000"/>
<circle cx="201" cy="499.4" r="1.6" fill="#000"/>
<path d="M195.5 488.6L198.5 491.8L195.5 495.0L192.5 491.8Z" fill="#ffff00"/>
<line x1="212.4" y1="386.3" x2="212.4" y2="393.6" stroke="#555" stroke-width="1.2"/>
<line x1="212.4" y1="412.8" x2="212.4" y2="423.5" stroke="#555" stroke-width="1.2"/>
<rect x="205.7" y="393.6" width="13.4" height="19.2" fill="#ffd700" stroke="#333" stroke-width="1.3"/>
<line x1="205.7" y1="401.7" x2="219.1" y2="401.7" stroke="#222" stroke-width="2"/>
<circle cx="219.2" cy="386" r="1.6" fill="#000"/>
<circle cx="217.6" cy="401.5" r="1.6" fill="#000"/>
<circle cx="208.4" cy="424.3" r="1.6" fill="#000"/>
<path d="M212.4 400.90000000000003L215.4 404.1L212.4 407.3L209.4 404.1Z" fill="#ffff00"/>
<text x="151.05" y="351.5" font-family="Liberation Serif" font-size="15.5" font-weight="normal" text-anchor="middle" fill="#111" textLength="74.9" lengthAdjust="spacingAndGlyphs">PC_36_5_1</text>
<text transform="translate(27.3,425.6) rotate(-90)" font-family="Liberation Serif" font-size="16.5" text-anchor="middle" fill="#111" textLength="170.0" lengthAdjust="spacingAndGlyphs">Relative abundance (x10<tspan font-size="11" dy="-5">6</tspan><tspan dy="5">)</tspan></text>
<text x="141.7" y="563.6" font-family="Liberation Serif" font-size="16" font-weight="normal" text-anchor="middle" fill="#111" textLength="96.6" lengthAdjust="spacingAndGlyphs">Days in culture</text>
<rect x="287.6" y="356.9" width="178.2" height="149.9" fill="none" stroke="#959595" stroke-width="1.3"/>
<line x1="284.6" y1="476.6" x2="287.6" y2="476.6" stroke="#888" stroke-width="1"/>
<text transform="translate(286.6,478.8) rotate(-90)" font-family="Liberation Serif" font-size="14.5" font-weight="normal" text-anchor="middle" fill="#111">0.2</text>
<line x1="284.6" y1="438.3" x2="287.6" y2="438.3" stroke="#888" stroke-width="1"/>
<text transform="translate(286.6,437.4) rotate(-90)" font-family="Liberation Serif" font-size="14.5" font-weight="normal" text-anchor="middle" fill="#111">0.5</text>
<line x1="284.6" y1="398.1" x2="287.6" y2="398.1" stroke="#888" stroke-width="1"/>
<text transform="translate(286.6,402.5) rotate(-90)" font-family="Liberation Serif" font-size="14.5" font-weight="normal" text-anchor="middle" fill="#111">0.7</text>
<line x1="284.6" y1="360.8" x2="287.6" y2="360.8" stroke="#888" stroke-width="1"/>
<text transform="translate(286.6,361) rotate(-90)" font-family="Liberation Serif" font-size="14.5" font-weight="normal" text-anchor="middle" fill="#111">1</text>
<line x1="297.4" y1="506.8" x2="297.4" y2="509.8" stroke="#888" stroke-width="1"/>
<text x="296.4" y="525.8" font-family="Liberation Serif" font-size="11.3" font-weight="normal" text-anchor="middle" fill="#111" stroke="#111" stroke-width="0.3">(-)</text>
<line x1="314.9" y1="506.8" x2="314.9" y2="509.8" stroke="#888" stroke-width="1"/>
<text x="316.1" y="525.8" font-family="Liberation Serif" font-size="11.3" font-weight="normal" text-anchor="middle" fill="#111" stroke="#111" stroke-width="0.3">(+)</text>
<line x1="332.5" y1="506.8" x2="332.5" y2="509.8" stroke="#888" stroke-width="1"/>
<text x="332.8" y="525.8" font-family="Liberation Serif" font-size="11.3" font-weight="normal" text-anchor="middle" fill="#111" stroke="#111" stroke-width="0.3">(-)</text>
<line x1="350.0" y1="506.8" x2="350.0" y2="509.8" stroke="#888" stroke-width="1"/>
<text x="350.6" y="525.8" font-family="Liberation Serif" font-size="11.3" font-weight="normal" text-anchor="middle" fill="#111" stroke="#111" stroke-width="0.3">(+)</text>
<line x1="367.6" y1="506.8" x2="367.6" y2="509.8" stroke="#888" stroke-width="1"/>
<text x="367.9" y="525.8" font-family="Liberation Serif" font-size="11.3" font-weight="normal" text-anchor="middle" fill="#111" stroke="#111" stroke-width="0.3">(-)</text>
<line x1="385.1" y1="506.8" x2="385.1" y2="509.8" stroke="#888" stroke-width="1"/>
<text x="385.8" y="525.8" font-family="Liberation Serif" font-size="11.3" font-weight="normal" text-anchor="middle" fill="#111" stroke="#111" stroke-width="0.3">(+)</text>
<line x1="402.7" y1="506.8" x2="402.7" y2="509.8" stroke="#888" stroke-width="1"/>
<text x="403.0" y="525.8" font-family="Liberation Serif" font-size="11.3" font-weight="normal" text-anchor="middle" fill="#111" stroke="#111" stroke-width="0.3">(-)</text>
<line x1="420.2" y1="506.8" x2="420.2" y2="509.8" stroke="#888" stroke-width="1"/>
<text x="420.9" y="525.8" font-family="Liberation Serif" font-size="11.3" font-weight="normal" text-anchor="middle" fill="#111" stroke="#111" stroke-width="0.3">(+)</text>
<line x1="437.8" y1="506.8" x2="437.8" y2="509.8" stroke="#888" stroke-width="1"/>
<text x="438.1" y="525.8" font-family="Liberation Serif" font-size="11.3" font-weight="normal" text-anchor="middle" fill="#111" stroke="#111" stroke-width="0.3">(-)</text>
<line x1="455.4" y1="506.8" x2="455.4" y2="509.8" stroke="#888" stroke-width="1"/>
<text x="456.0" y="525.8" font-family="Liberation Serif" font-size="11.3" font-weight="normal" text-anchor="middle" fill="#111" stroke="#111" stroke-width="0.3">(+)</text>
<text x="306.7" y="542.2" font-family="Liberation Serif" font-size="13.3" font-weight="normal" text-anchor="middle" fill="#111">1</text>
<text x="341.8" y="542.2" font-family="Liberation Serif" font-size="13.3" font-weight="normal" text-anchor="middle" fill="#111">4</text>
<text x="376.9" y="542.2" font-family="Liberation Serif" font-size="13.3" font-weight="normal" text-anchor="middle" fill="#111">7</text>
<text x="412.0" y="542.2" font-family="Liberation Serif" font-size="13.3" font-weight="normal" text-anchor="middle" fill="#111">10</text>
<text x="447.1" y="542.2" font-family="Liberation Serif" font-size="13.3" font-weight="normal" text-anchor="middle" fill="#111">14</text>
<rect x="290.8" y="484" width="14.1" height="5.4" fill="#e8104a" stroke="#333" stroke-width="1.3"/>
<line x1="290.8" y1="486.5" x2="304.9" y2="486.5" stroke="#222" stroke-width="2"/>
<circle cx="303.3" cy="481.8" r="1.6" fill="#000"/>
<circle cx="291.3" cy="487.3" r="1.6" fill="#000"/>
<circle cx="292.1" cy="491.4" r="1.6" fill="#000"/>
<path d="M297.4 483.6L300.4 486.8L297.4 490.0L294.4 486.8Z" fill="#ffff00"/>
<line x1="315.0" y1="430.8" x2="315.0" y2="436.6" stroke="#555" stroke-width="1.2"/>
<line x1="315.0" y1="449.6" x2="315.0" y2="454.9" stroke="#555" stroke-width="1.2"/>
<rect x="308.2" y="436.6" width="13.7" height="13.0" fill="#36b34a" stroke="#333" stroke-width="1.3"/>
<line x1="308.2" y1="443.3" x2="321.9" y2="443.3" stroke="#222" stroke-width="2"/>
<circle cx="308.2" cy="430.3" r="1.6" fill="#000"/>
<circle cx="317.9" cy="455.4" r="1.6" fill="#000"/>
<circle cx="319.9" cy="443.3" r="1.6" fill="#000"/>
<path d="M314.9 440.1L317.9 443.3L314.9 446.5L311.9 443.3Z" fill="#ffff00"/>
<rect x="326" y="490.6" width="14.1" height="3.8" fill="#6b1e8a" stroke="#333" stroke-width="1.3"/>
<line x1="326" y1="492.5" x2="340.1" y2="492.5" stroke="#222" stroke-width="2"/>
<circle cx="339" cy="489.8" r="1.6" fill="#000"/>
<circle cx="332" cy="496.7" r="1.6" fill="#000"/>
<path d="M332.8 489.40000000000003L335.8 492.6L332.8 495.8L329.8 492.6Z" fill="#ffff00"/>
<line x1="350.3" y1="363.6" x2="350.3" y2="374" stroke="#555" stroke-width="1.2"/>
<line x1="350.3" y1="389.4" x2="350.3" y2="392.5" stroke="#555" stroke-width="1.2"/>
<rect x="343.8" y="374" width="13.0" height="15.4" fill="#f47f21" stroke="#333" stroke-width="1.3"/>
<line x1="343.8" y1="384.1" x2="356.8" y2="384.1" stroke="#222" stroke-width="2"/>
<circle cx="353.3" cy="362.9" r="1.6" fill="#000"/>
<circle cx="348" cy="385" r="1.6" fill="#000"/>
<circle cx="343.4" cy="393.4" r="1.6" fill="#000"/>
<path d="M350.1 377.1L353.1 380.3L350.1 383.5L347.1 380.3Z" fill="#ffff00"/>
<line x1="367.9" y1="485.6" x2="367.9" y2="488.9" stroke="#555" stroke-width="1.2"/>
<line x1="367.9" y1="497.2" x2="367.9" y2="500" stroke="#555" stroke-width="1.2"/>
<rect x="361.1" y="488.9" width="13.6" height="8.3" fill="#8dc63f" stroke="#333" stroke-width="1.3"/>
<line x1="361.1" y1="493" x2="374.7" y2="493" stroke="#222" stroke-width="2"/>
<circle cx="368.9" cy="485.6" r="1.6" fill="#000"/>
<circle cx="363.6" cy="500.9" r="1.6" fill="#000"/>
<circle cx="372" cy="493" r="1.6" fill="#000"/>
<path d="M367.7 489.90000000000003L370.7 493.1L367.7 496.3L364.7 493.1Z" fill="#ffff00"/>
<line x1="385.4" y1="409" x2="385.4" y2="412" stroke="#555" stroke-width="1.2"/>
<line x1="385.4" y1="418.4" x2="385.4" y2="421.1" stroke="#555" stroke-width="1.2"/>
<rect x="378.3" y="412" width="14.1" height="6.4" fill="#ffc0c8" stroke="#333" stroke-width="1.3"/>
<line x1="378.3" y1="414.8" x2="392.4" y2="414.8" stroke="#222" stroke-width="2"/>
<circle cx="383.8" cy="409" r="1.6" fill="#000"/>
<circle cx="381.1" cy="421.8" r="1.6" fill="#000"/>
<circle cx="389.6" cy="414.8" r="1.6" fill="#000"/>
<path d="M385.3 412.1L388.3 415.3L385.3 418.5L382.3 415.3Z" fill="#ffff00"/>
<rect x="395.7" y="491.4" width="13.8" height="4.2" fill="#3a5fd8" stroke="#333" stroke-width="1.3"/>
<line x1="395.7" y1="493.5" x2="409.5" y2="493.5" stroke="#222" stroke-width="2"/>
<circle cx="406.9" cy="489.8" r="1.6" fill="#000"/>
<circle cx="397.9" cy="495.9" r="1.6" fill="#000"/>
<circle cx="408.5" cy="493.1" r="1.6" fill="#000"/>
<path d="M402.7 489.90000000000003L405.7 493.1L402.7 496.3L399.7 493.1Z" fill="#ffff00"/>
<line x1="420.4" y1="430.2" x2="420.4" y2="436.4" stroke="#555" stroke-width="1.2"/>
<rect x="413.5" y="421.4" width="13.8" height="8.8" fill="#33ccf0" stroke="#333" stroke-width="1.3"/>
<line x1="413.5" y1="422.6" x2="427.3" y2="422.6" stroke="#222" stroke-width="2"/>
<circle cx="424" cy="419.4" r="1.6" fill="#000"/>
<circle cx="415.7" cy="422.6" r="1.6" fill="#000"/>
<circle cx="419.3" cy="436.7" r="1.6" fill="#000"/>
<path d="M420.2 423.5L423.2 426.7L420.2 429.9L417.2 426.7Z" fill="#ffff00"/>
<line x1="437.5" y1="478.5" x2="437.5" y2="482.8" stroke="#555" stroke-width="1.2"/>
<rect x="430.6" y="482.8" width="13.8" height="6.6" fill="#ff20ff" stroke="#333" stroke-width="1.3"/>
<line x1="430.6" y1="488.1" x2="444.4" y2="488.1" stroke="#222" stroke-width="2"/>
<circle cx="432.3" cy="478.5" r="1.6" fill="#000"/>
<circle cx="433.1" cy="487.8" r="1.6" fill="#000"/>
<circle cx="430.6" cy="491.4" r="1.6" fill="#000"/>
<path d="M437.6 482.8L440.6 486L437.6 489.2L434.6 486Z" fill="#ffff00"/>
<line x1="455.0" y1="397.3" x2="455.0" y2="406.1" stroke="#555" stroke-width="1.2"/>
<line x1="455.0" y1="431.4" x2="455.0" y2="447.4" stroke="#555" stroke-width="1.2"/>
<rect x="448.4" y="406.1" width="13.3" height="25.3" fill="#ffd700" stroke="#333" stroke-width="1.3"/>
<line x1="448.4" y1="415.1" x2="461.7" y2="415.1" stroke="#222" stroke-width="2"/>
<circle cx="461" cy="396.8" r="1.6" fill="#000"/>
<circle cx="452.7" cy="415.1" r="1.6" fill="#000"/>
<circle cx="459.7" cy="447.9" r="1.6" fill="#000"/>
<path d="M455 416.6L458 419.8L455 423.0L452 419.8Z" fill="#ffff00"/>
<text x="378.35" y="351.5" font-family="Liberation Serif" font-size="15.5" font-weight="normal" text-anchor="middle" fill="#111" textLength="61.3" lengthAdjust="spacingAndGlyphs">PS_ 40_4</text>
<text transform="translate(269.7,425.3) rotate(-90)" font-family="Liberation Serif" font-size="16.5" text-anchor="middle" fill="#111" textLength="170.6" lengthAdjust="spacingAndGlyphs">Relative abundance (x10<tspan font-size="11" dy="-5">6</tspan><tspan dy="5">)</tspan></text>
<text x="384.29999999999995" y="558.8" font-family="Liberation Serif" font-size="16" font-weight="normal" text-anchor="middle" fill="#111" textLength="97.2" lengthAdjust="spacingAndGlyphs">Days in culture</text>
<rect x="531.6" y="357.3" width="177.1" height="151.9" fill="none" stroke="#959595" stroke-width="1.3"/>
<line x1="528.6" y1="480" x2="531.6" y2="480" stroke="#888" stroke-width="1"/>
<text transform="translate(528,479) rotate(-90)" font-family="Liberation Serif" font-size="14.5" font-weight="normal" text-anchor="middle" fill="#111">2</text>
<line x1="528.6" y1="448.5" x2="531.6" y2="448.5" stroke="#888" stroke-width="1"/>
<text transform="translate(528,447.1) rotate(-90)" font-family="Liberation Serif" font-size="14.5" font-weight="normal" text-anchor="middle" fill="#111">3</text>
<line x1="528.6" y1="417.7" x2="531.6" y2="417.7" stroke="#888" stroke-width="1"/>
<text transform="translate(528,416.6) rotate(-90)" font-family="Liberation Serif" font-size="14.5" font-weight="normal" text-anchor="middle" fill="#111">4</text>
<line x1="528.6" y1="386.7" x2="531.6" y2="386.7" stroke="#888" stroke-width="1"/>
<text transform="translate(528,385.6) rotate(-90)" font-family="Liberation Serif" font-size="14.5" font-weight="normal" text-anchor="middle" fill="#111">5</text>
<line x1="542.0" y1="509.2" x2="542.0" y2="512.2" stroke="#888" stroke-width="1"/>
<text x="541.0" y="530" font-family="Liberation Serif" font-size="11.3" font-weight="normal" text-anchor="middle" fill="#111" stroke="#111" stroke-width="0.3">(-)</text>
<line x1="559.5" y1="509.2" x2="559.5" y2="512.2" stroke="#888" stroke-width="1"/>
<text x="560.7" y="530" font-family="Liberation Serif" font-size="11.3" font-weight="normal" text-anchor="middle" fill="#111" stroke="#111" stroke-width="0.3">(+)</text>
<line x1="576.9" y1="509.2" x2="576.9" y2="512.2" stroke="#888" stroke-width="1"/>
<text x="577.2" y="530" font-family="Liberation Serif" font-size="11.3" font-weight="normal" text-anchor="middle" fill="#111" stroke="#111" stroke-width="0.3">(-)</text>
<line x1="594.4" y1="509.2" x2="594.4" y2="512.2" stroke="#888" stroke-width="1"/>
<text x="595.0" y="530" font-family="Liberation Serif" font-size="11.3" font-weight="normal" text-anchor="middle" fill="#111" stroke="#111" stroke-width="0.3">(+)</text>
<line x1="611.9" y1="509.2" x2="611.9" y2="512.2" stroke="#888" stroke-width="1"/>
<text x="612.2" y="530" font-family="Liberation Serif" font-size="11.3" font-weight="normal" text-anchor="middle" fill="#111" stroke="#111" stroke-width="0.3">(-)</text>
<line x1="629.4" y1="509.2" x2="629.4" y2="512.2" stroke="#888" stroke-width="1"/>
<text x="630.0" y="530" font-family="Liberation Serif" font-size="11.3" font-weight="normal" text-anchor="middle" fill="#111" stroke="#111" stroke-width="0.3">(+)</text>
<line x1="646.8" y1="509.2" x2="646.8" y2="512.2" stroke="#888" stroke-width="1"/>
<text x="647.1" y="530" font-family="Liberation Serif" font-size="11.3" font-weight="normal" text-anchor="middle" fill="#111" stroke="#111" stroke-width="0.3">(-)</text>
<line x1="664.3" y1="509.2" x2="664.3" y2="512.2" stroke="#888" stroke-width="1"/>
<text x="664.9" y="530" font-family="Liberation Serif" font-size="11.3" font-weight="normal" text-anchor="middle" fill="#111" stroke="#111" stroke-width="0.3">(+)</text>
<line x1="681.8" y1="509.2" x2="681.8" y2="512.2" stroke="#888" stroke-width="1"/>
<text x="682.1" y="530" font-family="Liberation Serif" font-size="11.3" font-weight="normal" text-anchor="middle" fill="#111" stroke="#111" stroke-width="0.3">(-)</text>
<line x1="699.2" y1="509.2" x2="699.2" y2="512.2" stroke="#888" stroke-width="1"/>
<text x="699.8" y="530" font-family="Liberation Serif" font-size="11.3" font-weight="normal" text-anchor="middle" fill="#111" stroke="#111" stroke-width="0.3">(+)</text>
<text x="551.2" y="546.6" font-family="Liberation Serif" font-size="13.3" font-weight="normal" text-anchor="middle" fill="#111">1</text>
<text x="586.2" y="546.6" font-family="Liberation Serif" font-size="13.3" font-weight="normal" text-anchor="middle" fill="#111">4</text>
<text x="621.1" y="546.6" font-family="Liberation Serif" font-size="13.3" font-weight="normal" text-anchor="middle" fill="#111">7</text>
<text x="656.1" y="546.6" font-family="Liberation Serif" font-size="13.3" font-weight="normal" text-anchor="middle" fill="#111">10</text>
<text x="691.0" y="546.6" font-family="Liberation Serif" font-size="13.3" font-weight="normal" text-anchor="middle" fill="#111">14</text>
<rect x="535.2" y="496.5" width="13.4" height="3.8" fill="#e8104a" stroke="#333" stroke-width="1.3"/>
<line x1="535.2" y1="498.4" x2="548.6" y2="498.4" stroke="#222" stroke-width="2"/>
<circle cx="545.4" cy="494.5" r="1.6" fill="#000"/>
<circle cx="544.7" cy="502.3" r="1.6" fill="#000"/>
<circle cx="547" cy="498.4" r="1.6" fill="#000"/>
<path d="M542 495.2L545 498.4L542 501.59999999999997L539 498.4Z" fill="#ffff00"/>
<line x1="559.4" y1="371.9" x2="559.4" y2="410.3" stroke="#555" stroke-width="1.2"/>
<rect x="552.6" y="410.3" width="13.5" height="39.4" fill="#36b34a" stroke="#333" stroke-width="1.3"/>
<line x1="552.6" y1="448.5" x2="566.1" y2="448.5" stroke="#222" stroke-width="2"/>
<circle cx="555.9" cy="371.9" r="1.6" fill="#000"/>
<circle cx="565.1" cy="448.6" r="1.6" fill="#000"/>
<circle cx="555.7" cy="452.5" r="1.6" fill="#000"/>
<path d="M559.4 421.1L562.4 424.3L559.4 427.5L556.4 424.3Z" fill="#ffff00"/>
<rect x="570.3" y="490" width="13.2" height="4.5" fill="#6b1e8a" stroke="#333" stroke-width="1.3"/>
<line x1="570.3" y1="492" x2="583.5" y2="492" stroke="#222" stroke-width="2"/>
<circle cx="571.9" cy="490.5" r="1.6" fill="#000"/>
<circle cx="574.2" cy="496.8" r="1.6" fill="#000"/>
<circle cx="582.4" cy="491.3" r="1.6" fill="#000"/>
<path d="M576.9 489.7L579.9 492.9L576.9 496.09999999999997L573.9 492.9Z" fill="#ffff00"/>
<rect x="587.1" y="386.7" width="14.3" height="4.4" fill="#f47f21" stroke="#333" stroke-width="1.3"/>
<line x1="587.1" y1="389" x2="601.4" y2="389" stroke="#222" stroke-width="2"/>
<circle cx="589.2" cy="385" r="1.6" fill="#000"/>
<circle cx="587.1" cy="388.8" r="1.6" fill="#000"/>
<circle cx="600.2" cy="392.5" r="1.6" fill="#000"/>
<path d="M594.4 385.6L597.4 388.8L594.4 392.0L591.4 388.8Z" fill="#ffff00"/>
<line x1="611.8" y1="482.7" x2="611.8" y2="485.8" stroke="#555" stroke-width="1.2"/>
<rect x="604.9" y="485.8" width="13.7" height="5.5" fill="#8dc63f" stroke="#333" stroke-width="1.3"/>
<line x1="604.9" y1="489.4" x2="618.6" y2="489.4" stroke="#222" stroke-width="2"/>
<circle cx="609.1" cy="482.2" r="1.6" fill="#000"/>
<circle cx="605.2" cy="489.7" r="1.6" fill="#000"/>
<circle cx="606.4" cy="492.9" r="1.6" fill="#000"/>
<path d="M611.5 485.3L614.5 488.5L611.5 491.7L608.5 488.5Z" fill="#ffff00"/>
<line x1="629.1" y1="379.9" x2="629.1" y2="388.2" stroke="#555" stroke-width="1.2"/>
<rect x="622.3" y="388.2" width="13.6" height="10.9" fill="#ffc0c8" stroke="#333" stroke-width="1.3"/>
<line x1="622.3" y1="396.9" x2="635.9" y2="396.9" stroke="#222" stroke-width="2"/>
<circle cx="631.5" cy="379.9" r="1.6" fill="#000"/>
<circle cx="624.9" cy="400.3" r="1.6" fill="#000"/>
<circle cx="633.6" cy="396.9" r="1.6" fill="#000"/>
<path d="M629.2 389.3L632.2 392.5L629.2 395.7L626.2 392.5Z" fill="#ffff00"/>
<line x1="646.8" y1="484" x2="646.8" y2="490.6" stroke="#555" stroke-width="1.2"/>
<rect x="639.9" y="490.6" width="13.7" height="9.1" fill="#3a5fd8" stroke="#333" stroke-width="1.3"/>
<line x1="639.9" y1="498.2" x2="653.6" y2="498.2" stroke="#222" stroke-width="2"/>
<circle cx="639.6" cy="484" r="1.6" fill="#000"/>
<circle cx="650.1" cy="498.2" r="1.6" fill="#000"/>
<circle cx="652.1" cy="501" r="1.6" fill="#000"/>
<path d="M646.6 491.0L649.6 494.2L646.6 497.4L643.6 494.2Z" fill="#ffff00"/>
<line x1="664.1" y1="391.7" x2="664.1" y2="400.3" stroke="#555" stroke-width="1.2"/>
<line x1="664.1" y1="412.9" x2="664.1" y2="415.3" stroke="#555" stroke-width="1.2"/>
<rect x="657.2" y="400.3" width="13.8" height="12.6" fill="#33ccf0" stroke="#333" stroke-width="1.3"/>
<line x1="657.2" y1="409.7" x2="671" y2="409.7" stroke="#222" stroke-width="2"/>
<circle cx="657.2" cy="391.4" r="1.6" fill="#000"/>
<circle cx="664.2" cy="414.8" r="1.6" fill="#000"/>
<path d="M664.2 402.1L667.2 405.3L664.2 408.5L661.2 405.3Z" fill="#ffff00"/>
<rect x="674.5" y="481.2" width="14.1" height="5.7" fill="#ff20ff" stroke="#333" stroke-width="1.3"/>
<line x1="674.5" y1="482.8" x2="688.6" y2="482.8" stroke="#222" stroke-width="2"/>
<circle cx="682.6" cy="477.7" r="1.6" fill="#000"/>
<circle cx="675.3" cy="485.3" r="1.6" fill="#000"/>
<circle cx="679.2" cy="487.6" r="1.6" fill="#000"/>
<path d="M681.5 480.8L684.5 484L681.5 487.2L678.5 484Z" fill="#ffff00"/>
<rect x="692.1" y="364.9" width="13.3" height="4.0" fill="#ffd700" stroke="#333" stroke-width="1.3"/>
<line x1="692.1" y1="367" x2="705.4" y2="367" stroke="#222" stroke-width="2"/>
<circle cx="694.4" cy="365.3" r="1.6" fill="#000"/>
<circle cx="703.6" cy="364.2" r="1.6" fill="#000"/>
<circle cx="701.2" cy="372" r="1.6" fill="#000"/>
<path d="M699.2 363.8L702.2 367L699.2 370.2L696.2 367Z" fill="#ffff00"/>
<text x="632.8499999999999" y="351.7" font-family="Liberation Serif" font-size="15.5" font-weight="normal" text-anchor="middle" fill="#111" textLength="74.9" lengthAdjust="spacingAndGlyphs">PC_36_5_1</text>
<text transform="translate(512.4,425.5) rotate(-90)" font-family="Liberation Serif" font-size="16.5" text-anchor="middle" fill="#111" textLength="169.8" lengthAdjust="spacingAndGlyphs">Relative abundance (x10<tspan font-size="11" dy="-5">6</tspan><tspan dy="5">)</tspan></text>
<text x="628.0999999999999" y="563.6" font-family="Liberation Serif" font-size="16" font-weight="normal" text-anchor="middle" fill="#111" textLength="96.6" lengthAdjust="spacingAndGlyphs">Days in culture</text>
<rect x="757" y="357.3" width="177.0" height="150.9" fill="none" stroke="#959595" stroke-width="1.3"/>
<line x1="754" y1="476.8" x2="757" y2="476.8" stroke="#888" stroke-width="1"/>
<text transform="translate(752.3,475.7) rotate(-90)" font-family="Liberation Serif" font-size="14.5" font-weight="normal" text-anchor="middle" fill="#111">0.3</text>
<line x1="754" y1="434.9" x2="757" y2="434.9" stroke="#888" stroke-width="1"/>
<text transform="translate(752.3,434.8) rotate(-90)" font-family="Liberation Serif" font-size="14.5" font-weight="normal" text-anchor="middle" fill="#111">0.6</text>
<line x1="754" y1="392.1" x2="757" y2="392.1" stroke="#888" stroke-width="1"/>
<text transform="translate(752.3,391.6) rotate(-90)" font-family="Liberation Serif" font-size="14.5" font-weight="normal" text-anchor="middle" fill="#111">0.9</text>
<line x1="766.7" y1="508.2" x2="766.7" y2="511.2" stroke="#888" stroke-width="1"/>
<text x="765.7" y="527.7" font-family="Liberation Serif" font-size="11.3" font-weight="normal" text-anchor="middle" fill="#111" stroke="#111" stroke-width="0.3">(-)</text>
<line x1="784.1" y1="508.2" x2="784.1" y2="511.2" stroke="#888" stroke-width="1"/>
<text x="785.3" y="527.7" font-family="Liberation Serif" font-size="11.3" font-weight="normal" text-anchor="middle" fill="#111" stroke="#111" stroke-width="0.3">(+)</text>
<line x1="801.6" y1="508.2" x2="801.6" y2="511.2" stroke="#888" stroke-width="1"/>
<text x="801.9" y="527.7" font-family="Liberation Serif" font-size="11.3" font-weight="normal" text-anchor="middle" fill="#111" stroke="#111" stroke-width="0.3">(-)</text>
<line x1="819.0" y1="508.2" x2="819.0" y2="511.2" stroke="#888" stroke-width="1"/>
<text x="819.6" y="527.7" font-family="Liberation Serif" font-size="11.3" font-weight="normal" text-anchor="middle" fill="#111" stroke="#111" stroke-width="0.3">(+)</text>
<line x1="836.4" y1="508.2" x2="836.4" y2="511.2" stroke="#888" stroke-width="1"/>
<text x="836.7" y="527.7" font-family="Liberation Serif" font-size="11.3" font-weight="normal" text-anchor="middle" fill="#111" stroke="#111" stroke-width="0.3">(-)</text>
<line x1="853.9" y1="508.2" x2="853.9" y2="511.2" stroke="#888" stroke-width="1"/>
<text x="854.5" y="527.7" font-family="Liberation Serif" font-size="11.3" font-weight="normal" text-anchor="middle" fill="#111" stroke="#111" stroke-width="0.3">(+)</text>
<line x1="871.3" y1="508.2" x2="871.3" y2="511.2" stroke="#888" stroke-width="1"/>
<text x="871.6" y="527.7" font-family="Liberation Serif" font-size="11.3" font-weight="normal" text-anchor="middle" fill="#111" stroke="#111" stroke-width="0.3">(-)</text>
<line x1="888.7" y1="508.2" x2="888.7" y2="511.2" stroke="#888" stroke-width="1"/>
<text x="889.3" y="527.7" font-family="Liberation Serif" font-size="11.3" font-weight="normal" text-anchor="middle" fill="#111" stroke="#111" stroke-width="0.3">(+)</text>
<line x1="906.1" y1="508.2" x2="906.1" y2="511.2" stroke="#888" stroke-width="1"/>
<text x="906.4" y="527.7" font-family="Liberation Serif" font-size="11.3" font-weight="normal" text-anchor="middle" fill="#111" stroke="#111" stroke-width="0.3">(-)</text>
<line x1="923.6" y1="508.2" x2="923.6" y2="511.2" stroke="#888" stroke-width="1"/>
<text x="924.2" y="527.7" font-family="Liberation Serif" font-size="11.3" font-weight="normal" text-anchor="middle" fill="#111" stroke="#111" stroke-width="0.3">(+)</text>
<text x="775.9" y="544.6" font-family="Liberation Serif" font-size="13.3" font-weight="normal" text-anchor="middle" fill="#111">1</text>
<text x="810.8" y="544.6" font-family="Liberation Serif" font-size="13.3" font-weight="normal" text-anchor="middle" fill="#111">4</text>
<text x="845.6" y="544.6" font-family="Liberation Serif" font-size="13.3" font-weight="normal" text-anchor="middle" fill="#111">7</text>
<text x="880.5" y="544.6" font-family="Liberation Serif" font-size="13.3" font-weight="normal" text-anchor="middle" fill="#111">10</text>
<text x="915.4" y="544.6" font-family="Liberation Serif" font-size="13.3" font-weight="normal" text-anchor="middle" fill="#111">14</text>
<line x1="767.1" y1="496" x2="767.1" y2="500.4" stroke="#555" stroke-width="1.2"/>
<rect x="760.5" y="488.2" width="13.2" height="7.8" fill="#e8104a" stroke="#333" stroke-width="1.3"/>
<line x1="760.5" y1="489.5" x2="773.7" y2="489.5" stroke="#222" stroke-width="2"/>
<circle cx="769.4" cy="487.3" r="1.6" fill="#000"/>
<circle cx="768.8" cy="501.3" r="1.6" fill="#000"/>
<path d="M766.7 489.90000000000003L769.7 493.1L766.7 496.3L763.7 493.1Z" fill="#ffff00"/>
<line x1="784.3" y1="382.2" x2="784.3" y2="411.8" stroke="#555" stroke-width="1.2"/>
<rect x="778" y="411.8" width="12.6" height="30.4" fill="#36b34a" stroke="#333" stroke-width="1.3"/>
<line x1="778" y1="441" x2="790.6" y2="441" stroke="#222" stroke-width="2"/>
<circle cx="788.3" cy="382.2" r="1.6" fill="#000"/>
<circle cx="780.2" cy="443.1" r="1.6" fill="#000"/>
<circle cx="783.7" cy="441.9" r="1.6" fill="#000"/>
<path d="M784.5 419.1L787.5 422.3L784.5 425.5L781.5 422.3Z" fill="#ffff00"/>
<rect x="795.1" y="489.9" width="13.1" height="3.2" fill="#6b1e8a" stroke="#333" stroke-width="1.3"/>
<line x1="795.1" y1="491.5" x2="808.2" y2="491.5" stroke="#222" stroke-width="2"/>
<circle cx="806.4" cy="489.6" r="1.6" fill="#000"/>
<circle cx="807.3" cy="494.8" r="1.6" fill="#000"/>
<path d="M801.5 488.5L804.5 491.7L801.5 494.9L798.5 491.7Z" fill="#ffff00"/>
<rect x="812.6" y="386.2" width="13.1" height="5.9" fill="#f47f21" stroke="#333" stroke-width="1.3"/>
<line x1="812.6" y1="387.7" x2="825.7" y2="387.7" stroke="#222" stroke-width="2"/>
<circle cx="813.6" cy="383" r="1.6" fill="#000"/>
<circle cx="819.1" cy="394.8" r="1.6" fill="#000"/>
<path d="M819.1 385.8L822.1 389L819.1 392.2L816.1 389Z" fill="#ffff00"/>
<rect x="829.5" y="492.5" width="13.7" height="5.6" fill="#8dc63f" stroke="#333" stroke-width="1.3"/>
<line x1="829.5" y1="495" x2="843.2" y2="495" stroke="#222" stroke-width="2"/>
<circle cx="841.9" cy="490.4" r="1.6" fill="#000"/>
<circle cx="837.6" cy="500.4" r="1.6" fill="#000"/>
<path d="M836.4 492.40000000000003L839.4 495.6L836.4 498.8L833.4 495.6Z" fill="#ffff00"/>
<line x1="854.2" y1="389.9" x2="854.2" y2="392.5" stroke="#555" stroke-width="1.2"/>
<line x1="854.2" y1="402.8" x2="854.2" y2="410.3" stroke="#555" stroke-width="1.2"/>
<rect x="847" y="392.5" width="14.5" height="10.3" fill="#ffc0c8" stroke="#333" stroke-width="1.3"/>
<line x1="847" y1="394" x2="861.5" y2="394" stroke="#222" stroke-width="2"/>
<circle cx="859.7" cy="389.3" r="1.6" fill="#000"/>
<circle cx="861.1" cy="395.1" r="1.6" fill="#000"/>
<circle cx="851.3" cy="410.3" r="1.6" fill="#000"/>
<path d="M854 395.8L857 399L854 402.2L851 399Z" fill="#ffff00"/>
<rect x="864.9" y="492.7" width="12.2" height="2.0" fill="#3a5fd8" stroke="#333" stroke-width="1.3"/>
<line x1="864.9" y1="493.7" x2="877.1" y2="493.7" stroke="#222" stroke-width="2"/>
<circle cx="876.5" cy="493.8" r="1.6" fill="#000"/>
<path d="M871.2 490.3L874.2 493.5L871.2 496.7L868.2 493.5Z" fill="#ffff00"/>
<line x1="888.8" y1="392.8" x2="888.8" y2="401.6" stroke="#555" stroke-width="1.2"/>
<line x1="888.8" y1="421.4" x2="888.8" y2="431.3" stroke="#555" stroke-width="1.2"/>
<rect x="882" y="401.6" width="13.6" height="19.8" fill="#33ccf0" stroke="#333" stroke-width="1.3"/>
<line x1="882" y1="410.7" x2="895.6" y2="410.7" stroke="#222" stroke-width="2"/>
<circle cx="885.4" cy="392.5" r="1.6" fill="#000"/>
<circle cx="886.5" cy="431.8" r="1.6" fill="#000"/>
<path d="M888.6 408.40000000000003L891.6 411.6L888.6 414.8L885.6 411.6Z" fill="#ffff00"/>
<rect x="899.5" y="486.5" width="13.5" height="4.9" fill="#ff20ff" stroke="#333" stroke-width="1.3"/>
<line x1="899.5" y1="488.6" x2="913" y2="488.6" stroke="#222" stroke-width="2"/>
<circle cx="901.4" cy="483.3" r="1.6" fill="#000"/>
<circle cx="904" cy="491" r="1.6" fill="#000"/>
<path d="M905.9 485.1L908.9 488.3L905.9 491.5L902.9 488.3Z" fill="#ffff00"/>
<line x1="923.5" y1="364" x2="923.5" y2="370.6" stroke="#555" stroke-width="1.2"/>
<line x1="923.5" y1="385" x2="923.5" y2="392" stroke="#555" stroke-width="1.2"/>
<rect x="916.9" y="370.6" width="13.3" height="14.4" fill="#ffd700" stroke="#333" stroke-width="1.3"/>
<line x1="916.9" y1="377.6" x2="930.2" y2="377.6" stroke="#222" stroke-width="2"/>
<circle cx="929.3" cy="363.6" r="1.6" fill="#000"/>
<circle cx="922.7" cy="392" r="1.6" fill="#000"/>
<path d="M923.6 374.8L926.6 378L923.6 381.2L920.6 378Z" fill="#ffff00"/>
<text x="848.2" y="353" font-family="Liberation Serif" font-size="15.5" font-weight="normal" text-anchor="middle" fill="#111" textLength="58.2" lengthAdjust="spacingAndGlyphs">PS_40_4</text>
<text transform="translate(737,425.0) rotate(-90)" font-family="Liberation Serif" font-size="16.5" text-anchor="middle" fill="#111" textLength="170.4" lengthAdjust="spacingAndGlyphs">Relative abundance (x10<tspan font-size="11" dy="-5">6</tspan><tspan dy="5">)</tspan></text>
<text x="852.5" y="562.7" font-family="Liberation Serif" font-size="16" font-weight="normal" text-anchor="middle" fill="#111" textLength="96.6" lengthAdjust="spacingAndGlyphs">Days in culture</text>
<rect x="992.4" y="356.8" width="176.6" height="152.6" fill="none" stroke="#959595" stroke-width="1.3"/>
<line x1="989.4" y1="481.5" x2="992.4" y2="481.5" stroke="#888" stroke-width="1"/>
<text transform="translate(987.6,481.5) rotate(-90)" font-family="Liberation Serif" font-size="14.5" font-weight="normal" text-anchor="middle" fill="#111">2</text>
<line x1="989.4" y1="449.4" x2="992.4" y2="449.4" stroke="#888" stroke-width="1"/>
<text transform="translate(987.6,449.4) rotate(-90)" font-family="Liberation Serif" font-size="14.5" font-weight="normal" text-anchor="middle" fill="#111">3</text>
<line x1="989.4" y1="416.8" x2="992.4" y2="416.8" stroke="#888" stroke-width="1"/>
<text transform="translate(987.6,416.8) rotate(-90)" font-family="Liberation Serif" font-size="14.5" font-weight="normal" text-anchor="middle" fill="#111">4</text>
<line x1="989.4" y1="384.1" x2="992.4" y2="384.1" stroke="#888" stroke-width="1"/>
<text transform="translate(987.6,384.1) rotate(-90)" font-family="Liberation Serif" font-size="14.5" font-weight="normal" text-anchor="middle" fill="#111">5</text>
<line x1="1002.1" y1="509.4" x2="1002.1" y2="512.4" stroke="#888" stroke-width="1"/>
<text x="1001.1" y="529.2" font-family="Liberation Serif" font-size="11.3" font-weight="normal" text-anchor="middle" fill="#111" stroke="#111" stroke-width="0.3">(-)</text>
<line x1="1019.5" y1="509.4" x2="1019.5" y2="512.4" stroke="#888" stroke-width="1"/>
<text x="1020.7" y="529.2" font-family="Liberation Serif" font-size="11.3" font-weight="normal" text-anchor="middle" fill="#111" stroke="#111" stroke-width="0.3">(+)</text>
<line x1="1036.9" y1="509.4" x2="1036.9" y2="512.4" stroke="#888" stroke-width="1"/>
<text x="1037.2" y="529.2" font-family="Liberation Serif" font-size="11.3" font-weight="normal" text-anchor="middle" fill="#111" stroke="#111" stroke-width="0.3">(-)</text>
<line x1="1054.3" y1="509.4" x2="1054.3" y2="512.4" stroke="#888" stroke-width="1"/>
<text x="1054.9" y="529.2" font-family="Liberation Serif" font-size="11.3" font-weight="normal" text-anchor="middle" fill="#111" stroke="#111" stroke-width="0.3">(+)</text>
<line x1="1071.7" y1="509.4" x2="1071.7" y2="512.4" stroke="#888" stroke-width="1"/>
<text x="1072.0" y="529.2" font-family="Liberation Serif" font-size="11.3" font-weight="normal" text-anchor="middle" fill="#111" stroke="#111" stroke-width="0.3">(-)</text>
<line x1="1089.2" y1="509.4" x2="1089.2" y2="512.4" stroke="#888" stroke-width="1"/>
<text x="1089.8" y="529.2" font-family="Liberation Serif" font-size="11.3" font-weight="normal" text-anchor="middle" fill="#111" stroke="#111" stroke-width="0.3">(+)</text>
<line x1="1106.6" y1="509.4" x2="1106.6" y2="512.4" stroke="#888" stroke-width="1"/>
<text x="1106.9" y="529.2" font-family="Liberation Serif" font-size="11.3" font-weight="normal" text-anchor="middle" fill="#111" stroke="#111" stroke-width="0.3">(-)</text>
<line x1="1124.0" y1="509.4" x2="1124.0" y2="512.4" stroke="#888" stroke-width="1"/>
<text x="1124.6" y="529.2" font-family="Liberation Serif" font-size="11.3" font-weight="normal" text-anchor="middle" fill="#111" stroke="#111" stroke-width="0.3">(+)</text>
<line x1="1141.4" y1="509.4" x2="1141.4" y2="512.4" stroke="#888" stroke-width="1"/>
<text x="1141.7" y="529.2" font-family="Liberation Serif" font-size="11.3" font-weight="normal" text-anchor="middle" fill="#111" stroke="#111" stroke-width="0.3">(-)</text>
<line x1="1158.8" y1="509.4" x2="1158.8" y2="512.4" stroke="#888" stroke-width="1"/>
<text x="1159.4" y="529.2" font-family="Liberation Serif" font-size="11.3" font-weight="normal" text-anchor="middle" fill="#111" stroke="#111" stroke-width="0.3">(+)</text>
<text x="1011.3" y="545.4" font-family="Liberation Serif" font-size="13.3" font-weight="normal" text-anchor="middle" fill="#111">1</text>
<text x="1046.1" y="545.4" font-family="Liberation Serif" font-size="13.3" font-weight="normal" text-anchor="middle" fill="#111">4</text>
<text x="1080.9" y="545.4" font-family="Liberation Serif" font-size="13.3" font-weight="normal" text-anchor="middle" fill="#111">7</text>
<text x="1115.8" y="545.4" font-family="Liberation Serif" font-size="13.3" font-weight="normal" text-anchor="middle" fill="#111">10</text>
<text x="1150.6" y="545.4" font-family="Liberation Serif" font-size="13.3" font-weight="normal" text-anchor="middle" fill="#111">14</text>
<rect x="995.5" y="483.7" width="14.0" height="3.0" fill="#e8104a" stroke="#333" stroke-width="1.3"/>
<line x1="995.5" y1="485.2" x2="1009.5" y2="485.2" stroke="#222" stroke-width="2"/>
<circle cx="997" cy="484" r="1.6" fill="#000"/>
<path d="M1002.5 482.0L1005.5 485.2L1002.5 488.4L999.5 485.2Z" fill="#ffff00"/>
<rect x="1013.3" y="456.4" width="13.7" height="4.7" fill="#36b34a" stroke="#333" stroke-width="1.3"/>
<line x1="1013.3" y1="458.8" x2="1027" y2="458.8" stroke="#222" stroke-width="2"/>
<circle cx="1018.7" cy="454.6" r="1.6" fill="#000"/>
<circle cx="1016.1" cy="462.8" r="1.6" fill="#000"/>
<path d="M1020 455.6L1023 458.8L1020 462.0L1017 458.8Z" fill="#ffff00"/>
<rect x="1030.8" y="492.4" width="14.0" height="2.0" fill="#6b1e8a" stroke="#333" stroke-width="1.3"/>
<line x1="1030.8" y1="493.4" x2="1044.8" y2="493.4" stroke="#222" stroke-width="2"/>
<circle cx="1043" cy="493" r="1.6" fill="#000"/>
<path d="M1036.9 491.1L1039.9 494.3L1036.9 497.5L1033.9 494.3Z" fill="#ffff00"/>
<line x1="1054.8" y1="389.3" x2="1054.8" y2="405.3" stroke="#555" stroke-width="1.2"/>
<rect x="1047.9" y="370.4" width="13.8" height="18.9" fill="#f47f21" stroke="#333" stroke-width="1.3"/>
<line x1="1047.9" y1="373.3" x2="1061.7" y2="373.3" stroke="#222" stroke-width="2"/>
<circle cx="1052.9" cy="367.8" r="1.6" fill="#000"/>
<circle cx="1053.7" cy="373.3" r="1.6" fill="#000"/>
<circle cx="1061.3" cy="405.3" r="1.6" fill="#000"/>
<path d="M1054.5 379.0L1057.5 382.2L1054.5 385.4L1051.5 382.2Z" fill="#ffff00"/>
<line x1="1072.0" y1="494.7" x2="1072.0" y2="498.1" stroke="#555" stroke-width="1.2"/>
<rect x="1065.1" y="487.8" width="13.8" height="6.9" fill="#8dc63f" stroke="#333" stroke-width="1.3"/>
<line x1="1065.1" y1="489.9" x2="1078.9" y2="489.9" stroke="#222" stroke-width="2"/>
<circle cx="1070.1" cy="486.1" r="1.6" fill="#000"/>
<circle cx="1065.1" cy="499" r="1.6" fill="#000"/>
<path d="M1071.9 488.8L1074.9 492L1071.9 495.2L1068.9 492Z" fill="#ffff00"/>
<line x1="1089.4" y1="373.3" x2="1089.4" y2="382.7" stroke="#555" stroke-width="1.2"/>
<rect x="1082.6" y="382.7" width="13.7" height="12.9" fill="#ffc0c8" stroke="#333" stroke-width="1.3"/>
<line x1="1082.6" y1="392.8" x2="1096.3" y2="392.8" stroke="#222" stroke-width="2"/>
<circle cx="1086.2" cy="372.8" r="1.6" fill="#000"/>
<circle cx="1096.4" cy="392.8" r="1.6" fill="#000"/>
<circle cx="1093.6" cy="398" r="1.6" fill="#000"/>
<path d="M1089.2 384.5L1092.2 387.7L1089.2 390.9L1086.2 387.7Z" fill="#ffff00"/>
<line x1="1106.8" y1="484.8" x2="1106.8" y2="490.6" stroke="#555" stroke-width="1.2"/>
<line x1="1106.8" y1="500.1" x2="1106.8" y2="502.1" stroke="#555" stroke-width="1.2"/>
<rect x="1099.9" y="490.6" width="13.8" height="9.5" fill="#3a5fd8" stroke="#333" stroke-width="1.3"/>
<line x1="1099.9" y1="497.9" x2="1113.7" y2="497.9" stroke="#222" stroke-width="2"/>
<circle cx="1103.3" cy="484.5" r="1.6" fill="#000"/>
<circle cx="1102.2" cy="497.9" r="1.6" fill="#000"/>
<circle cx="1112.5" cy="502.9" r="1.6" fill="#000"/>
<path d="M1106.6 491.8L1109.6 495L1106.6 498.2L1103.6 495Z" fill="#ffff00"/>
<line x1="1124.2" y1="400.6" x2="1124.2" y2="404.2" stroke="#555" stroke-width="1.2"/>
<rect x="1117.2" y="404.2" width="14.1" height="5.5" fill="#33ccf0" stroke="#333" stroke-width="1.3"/>
<line x1="1117.2" y1="409" x2="1131.3" y2="409" stroke="#222" stroke-width="2"/>
<circle cx="1128.5" cy="400.3" r="1.6" fill="#000"/>
<circle cx="1121.6" cy="410.2" r="1.6" fill="#000"/>
<path d="M1124.2 403.40000000000003L1127.2 406.6L1124.2 409.8L1121.2 406.6Z" fill="#ffff00"/>
<line x1="1141.5" y1="480.1" x2="1141.5" y2="482.1" stroke="#555" stroke-width="1.2"/>
<line x1="1141.5" y1="491.1" x2="1141.5" y2="496.6" stroke="#555" stroke-width="1.2"/>
<rect x="1134.5" y="482.1" width="14.1" height="9.0" fill="#ff20ff" stroke="#333" stroke-width="1.3"/>
<line x1="1134.5" y1="484.8" x2="1148.6" y2="484.8" stroke="#222" stroke-width="2"/>
<circle cx="1136.8" cy="479.6" r="1.6" fill="#000"/>
<circle cx="1136.8" cy="496.9" r="1.6" fill="#000"/>
<path d="M1141.5 484.0L1144.5 487.2L1141.5 490.4L1138.5 487.2Z" fill="#ffff00"/>
<line x1="1158.8" y1="363.4" x2="1158.8" y2="387.4" stroke="#555" stroke-width="1.2"/>
<line x1="1158.8" y1="415.7" x2="1158.8" y2="416.8" stroke="#555" stroke-width="1.2"/>
<rect x="1152.1" y="387.4" width="13.3" height="28.3" fill="#ffd700" stroke="#333" stroke-width="1.3"/>
<line x1="1152.1" y1="412.1" x2="1165.4" y2="412.1" stroke="#222" stroke-width="2"/>
<circle cx="1158.4" cy="363.4" r="1.6" fill="#000"/>
<circle cx="1161.2" cy="412.1" r="1.6" fill="#000"/>
<circle cx="1159.6" cy="419.5" r="1.6" fill="#000"/>
<path d="M1158.8 394.8L1161.8 398L1158.8 401.2L1155.8 398Z" fill="#ffff00"/>
<text x="1086.6999999999998" y="353" font-family="Liberation Serif" font-size="15.5" font-weight="normal" text-anchor="middle" fill="#111" textLength="74.8" lengthAdjust="spacingAndGlyphs">PC_36_5_1</text>
<text transform="translate(970,425.1) rotate(-90)" font-family="Liberation Serif" font-size="16.5" text-anchor="middle" fill="#111" textLength="170.4" lengthAdjust="spacingAndGlyphs">Relative abundance (x10<tspan font-size="11" dy="-5">6</tspan><tspan dy="5">)</tspan></text>
<text x="1088.5" y="562.7" font-family="Liberation Serif" font-size="16" font-weight="normal" text-anchor="middle" fill="#111" textLength="96.6" lengthAdjust="spacingAndGlyphs">Days in culture</text>
<rect x="1232.4" y="355.8" width="177.0" height="154.2" fill="none" stroke="#959595" stroke-width="1.3"/>
<line x1="1229.4" y1="480.3" x2="1232.4" y2="480.3" stroke="#888" stroke-width="1"/>
<text transform="translate(1228,480.8) rotate(-90)" font-family="Liberation Serif" font-size="14.5" font-weight="normal" text-anchor="middle" fill="#111">0.3</text>
<line x1="1229.4" y1="434.9" x2="1232.4" y2="434.9" stroke="#888" stroke-width="1"/>
<text transform="translate(1228,435.4) rotate(-90)" font-family="Liberation Serif" font-size="14.5" font-weight="normal" text-anchor="middle" fill="#111">0.6</text>
<line x1="1229.4" y1="389" x2="1232.4" y2="389" stroke="#888" stroke-width="1"/>
<text transform="translate(1228,388.6) rotate(-90)" font-family="Liberation Serif" font-size="14.5" font-weight="normal" text-anchor="middle" fill="#111">0.9</text>
<line x1="1241.9" y1="510" x2="1241.9" y2="513" stroke="#888" stroke-width="1"/>
<text x="1240.9" y="531.2" font-family="Liberation Serif" font-size="11.3" font-weight="normal" text-anchor="middle" fill="#111" stroke="#111" stroke-width="0.3">(-)</text>
<line x1="1259.4" y1="510" x2="1259.4" y2="513" stroke="#888" stroke-width="1"/>
<text x="1260.6" y="531.2" font-family="Liberation Serif" font-size="11.3" font-weight="normal" text-anchor="middle" fill="#111" stroke="#111" stroke-width="0.3">(+)</text>
<line x1="1276.9" y1="510" x2="1276.9" y2="513" stroke="#888" stroke-width="1"/>
<text x="1277.2" y="531.2" font-family="Liberation Serif" font-size="11.3" font-weight="normal" text-anchor="middle" fill="#111" stroke="#111" stroke-width="0.3">(-)</text>
<line x1="1294.4" y1="510" x2="1294.4" y2="513" stroke="#888" stroke-width="1"/>
<text x="1295.0" y="531.2" font-family="Liberation Serif" font-size="11.3" font-weight="normal" text-anchor="middle" fill="#111" stroke="#111" stroke-width="0.3">(+)</text>
<line x1="1311.9" y1="510" x2="1311.9" y2="513" stroke="#888" stroke-width="1"/>
<text x="1312.2" y="531.2" font-family="Liberation Serif" font-size="11.3" font-weight="normal" text-anchor="middle" fill="#111" stroke="#111" stroke-width="0.3">(-)</text>
<line x1="1329.4" y1="510" x2="1329.4" y2="513" stroke="#888" stroke-width="1"/>
<text x="1330.0" y="531.2" font-family="Liberation Serif" font-size="11.3" font-weight="normal" text-anchor="middle" fill="#111" stroke="#111" stroke-width="0.3">(+)</text>
<line x1="1346.9" y1="510" x2="1346.9" y2="513" stroke="#888" stroke-width="1"/>
<text x="1347.2" y="531.2" font-family="Liberation Serif" font-size="11.3" font-weight="normal" text-anchor="middle" fill="#111" stroke="#111" stroke-width="0.3">(-)</text>
<line x1="1364.4" y1="510" x2="1364.4" y2="513" stroke="#888" stroke-width="1"/>
<text x="1365.0" y="531.2" font-family="Liberation Serif" font-size="11.3" font-weight="normal" text-anchor="middle" fill="#111" stroke="#111" stroke-width="0.3">(+)</text>
<line x1="1381.9" y1="510" x2="1381.9" y2="513" stroke="#888" stroke-width="1"/>
<text x="1382.2" y="531.2" font-family="Liberation Serif" font-size="11.3" font-weight="normal" text-anchor="middle" fill="#111" stroke="#111" stroke-width="0.3">(-)</text>
<line x1="1399.4" y1="510" x2="1399.4" y2="513" stroke="#888" stroke-width="1"/>
<text x="1400.0" y="531.2" font-family="Liberation Serif" font-size="11.3" font-weight="normal" text-anchor="middle" fill="#111" stroke="#111" stroke-width="0.3">(+)</text>
<text x="1251.2" y="547.8" font-family="Liberation Serif" font-size="13.3" font-weight="normal" text-anchor="middle" fill="#111">1</text>
<text x="1286.2" y="547.8" font-family="Liberation Serif" font-size="13.3" font-weight="normal" text-anchor="middle" fill="#111">4</text>
<text x="1321.2" y="547.8" font-family="Liberation Serif" font-size="13.3" font-weight="normal" text-anchor="middle" fill="#111">7</text>
<text x="1356.2" y="547.8" font-family="Liberation Serif" font-size="13.3" font-weight="normal" text-anchor="middle" fill="#111">10</text>
<text x="1391.2" y="547.8" font-family="Liberation Serif" font-size="13.3" font-weight="normal" text-anchor="middle" fill="#111">14</text>
<rect x="1235.4" y="493.1" width="15.2" height="3.5" fill="#e8104a" stroke="#333" stroke-width="1.3"/>
<line x1="1235.4" y1="494.8" x2="1250.6" y2="494.8" stroke="#222" stroke-width="2"/>
<circle cx="1238.4" cy="491.3" r="1.6" fill="#000"/>
<circle cx="1240.6" cy="497.8" r="1.6" fill="#000"/>
<path d="M1242.2 491.6L1245.2 494.8L1242.2 498.0L1239.2 494.8Z" fill="#ffff00"/>
<rect x="1253.2" y="456.4" width="13.7" height="5.9" fill="#36b34a" stroke="#333" stroke-width="1.3"/>
<line x1="1253.2" y1="459" x2="1266.9" y2="459" stroke="#222" stroke-width="2"/>
<circle cx="1255.8" cy="453.6" r="1.6" fill="#000"/>
<circle cx="1265.8" cy="465.8" r="1.6" fill="#000"/>
<path d="M1259.9 456.1L1262.9 459.3L1259.9 462.5L1256.9 459.3Z" fill="#ffff00"/>
<rect x="1270.7" y="495.5" width="13.6" height="4.0" fill="#6b1e8a" stroke="#333" stroke-width="1.3"/>
<line x1="1270.7" y1="497.5" x2="1284.3" y2="497.5" stroke="#222" stroke-width="2"/>
<circle cx="1280.3" cy="493.8" r="1.6" fill="#000"/>
<circle cx="1272.4" cy="498.3" r="1.6" fill="#000"/>
<path d="M1277.3 493.7L1280.3 496.9L1277.3 500.09999999999997L1274.3 496.9Z" fill="#ffff00"/>
<line x1="1294.8" y1="363.8" x2="1294.8" y2="372.5" stroke="#555" stroke-width="1.2"/>
<line x1="1294.8" y1="392.8" x2="1294.8" y2="404.2" stroke="#555" stroke-width="1.2"/>
<rect x="1288.1" y="372.5" width="13.3" height="20.3" fill="#f47f21" stroke="#333" stroke-width="1.3"/>
<line x1="1288.1" y1="381.1" x2="1301.4" y2="381.1" stroke="#222" stroke-width="2"/>
<circle cx="1301.3" cy="363.4" r="1.6" fill="#000"/>
<circle cx="1291.5" cy="404.2" r="1.6" fill="#000"/>
<circle cx="1297" cy="381.1" r="1.6" fill="#000"/>
<path d="M1294.7 380.1L1297.7 383.3L1294.7 386.5L1291.7 383.3Z" fill="#ffff00"/>
<rect x="1305.7" y="496.9" width="13.3" height="3.9" fill="#8dc63f" stroke="#333" stroke-width="1.3"/>
<line x1="1305.7" y1="499" x2="1319" y2="499" stroke="#222" stroke-width="2"/>
<circle cx="1308.8" cy="495.2" r="1.6" fill="#000"/>
<circle cx="1316.2" cy="501.3" r="1.6" fill="#000"/>
<path d="M1312.1 495.8L1315.1 499L1312.1 502.2L1309.1 499Z" fill="#ffff00"/>
<line x1="1329.7" y1="362.3" x2="1329.7" y2="377.5" stroke="#555" stroke-width="1.2"/>
<line x1="1329.7" y1="396.4" x2="1329.7" y2="399.1" stroke="#555" stroke-width="1.2"/>
<rect x="1322.9" y="377.5" width="13.5" height="18.9" fill="#ffc0c8" stroke="#333" stroke-width="1.3"/>
<line x1="1322.9" y1="392.8" x2="1336.4" y2="392.8" stroke="#222" stroke-width="2"/>
<circle cx="1329.7" cy="362.3" r="1.6" fill="#000"/>
<circle cx="1323.4" cy="399.5" r="1.6" fill="#000"/>
<circle cx="1328.6" cy="392.8" r="1.6" fill="#000"/>
<path d="M1329.7 381.7L1332.7 384.9L1329.7 388.09999999999997L1326.7 384.9Z" fill="#ffff00"/>
<line x1="1347.5" y1="499" x2="1347.5" y2="502.2" stroke="#555" stroke-width="1.2"/>
<rect x="1340.2" y="493.2" width="14.6" height="5.8" fill="#3a5fd8" stroke="#333" stroke-width="1.3"/>
<line x1="1340.2" y1="494" x2="1354.8" y2="494" stroke="#222" stroke-width="2"/>
<circle cx="1351.2" cy="503.3" r="1.6" fill="#000"/>
<path d="M1347 493.8L1350 497L1347 500.2L1344 497Z" fill="#ffff00"/>
<rect x="1357.2" y="409" width="14.1" height="4.7" fill="#33ccf0" stroke="#333" stroke-width="1.3"/>
<line x1="1357.2" y1="410" x2="1371.3" y2="410" stroke="#222" stroke-width="2"/>
<circle cx="1369" cy="406.9" r="1.6" fill="#000"/>
<circle cx="1367.9" cy="417.3" r="1.6" fill="#000"/>
<path d="M1364.6 408.1L1367.6 411.3L1364.6 414.5L1361.6 411.3Z" fill="#ffff00"/>
<rect x="1375.3" y="497" width="13.4" height="3.0" fill="#ff20ff" stroke="#333" stroke-width="1.3"/>
<line x1="1375.3" y1="498.5" x2="1388.7" y2="498.5" stroke="#222" stroke-width="2"/>
<circle cx="1386" cy="499" r="1.6" fill="#000"/>
<path d="M1381.9 495.8L1384.9 499L1381.9 502.2L1378.9 499Z" fill="#ffff00"/>
<line x1="1399.2" y1="364.9" x2="1399.2" y2="387" stroke="#555" stroke-width="1.2"/>
<line x1="1399.2" y1="417.9" x2="1399.2" y2="427" stroke="#555" stroke-width="1.2"/>
<rect x="1392.5" y="387" width="13.4" height="30.9" fill="#ffd700" stroke="#333" stroke-width="1.3"/>
<line x1="1392.5" y1="409" x2="1405.9" y2="409" stroke="#222" stroke-width="2"/>
<circle cx="1397" cy="364.5" r="1.6" fill="#000"/>
<circle cx="1399.6" cy="427" r="1.6" fill="#000"/>
<circle cx="1398.5" cy="409" r="1.6" fill="#000"/>
<path d="M1399.2 396.8L1402.2 400L1399.2 403.2L1396.2 400Z" fill="#ffff00"/>
<text x="1327.4" y="351.7" font-family="Liberation Serif" font-size="15.5" font-weight="normal" text-anchor="middle" fill="#111" textLength="58.6" lengthAdjust="spacingAndGlyphs">PS_40_4</text>
<text transform="translate(1211.1,425.05) rotate(-90)" font-family="Liberation Serif" font-size="16.5" text-anchor="middle" fill="#111" textLength="170.5" lengthAdjust="spacingAndGlyphs">Relative abundance (x10<tspan font-size="11" dy="-5">6</tspan><tspan dy="5">)</tspan></text>
<text x="1329.9" y="565.7" font-family="Liberation Serif" font-size="16" font-weight="normal" text-anchor="middle" fill="#111" textLength="96.6" lengthAdjust="spacingAndGlyphs">Days in culture</text>
</svg>
</body></html>
